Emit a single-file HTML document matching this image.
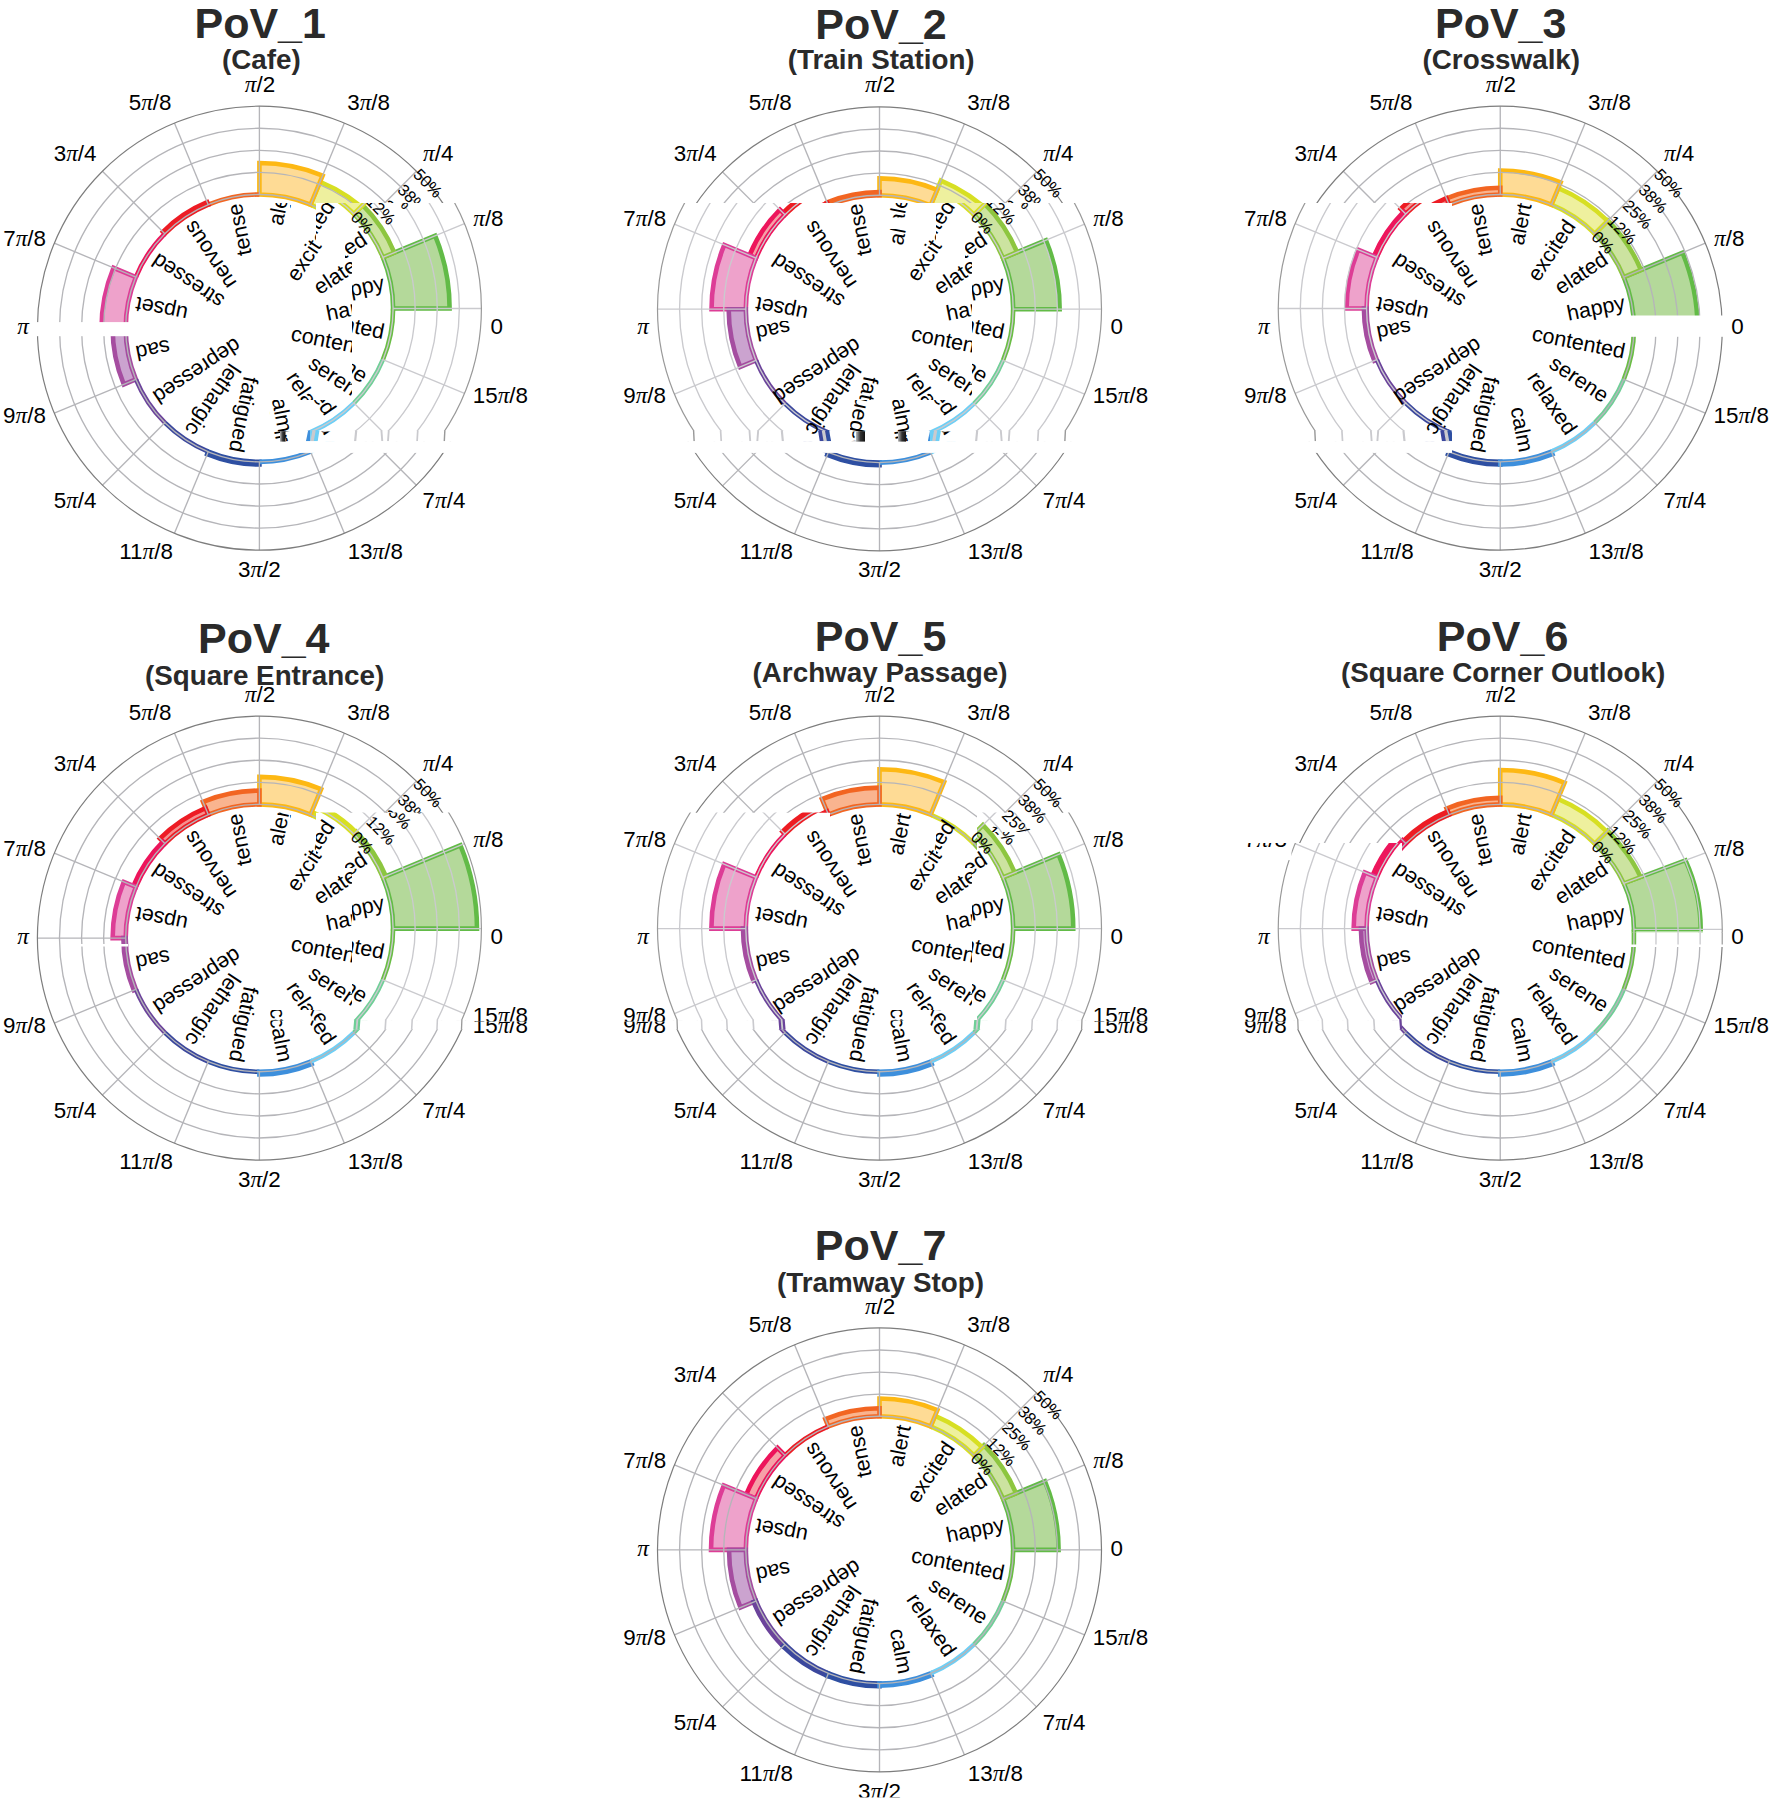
<!DOCTYPE html><html><head><meta charset="utf-8"><title>PoV polar charts</title><style>html,body{margin:0;padding:0;background:#fff}svg{display:block}text{font-family:"Liberation Sans",sans-serif;fill:#000}.ti{font-size:43px;font-weight:bold;text-anchor:middle;fill:#2a2a2a}.su{font-size:27.8px;font-weight:bold;text-anchor:middle;fill:#2a2a2a}.th{font-size:22.4px;text-anchor:middle}.pi{font-family:"Liberation Serif",serif;font-style:italic;font-size:1.04em}.wd{font-size:21.5px;text-anchor:end;dominant-baseline:central}.rt{font-size:16.5px;text-anchor:start;dominant-baseline:central}</style></head><body><svg width="1772" height="1802" viewBox="0 0 1772 1802"><rect width="1772" height="1802" fill="#fff"/><filter id="bl" x="-5%" y="-5%" width="110%" height="110%"><feGaussianBlur stdDeviation="0.55"/></filter><linearGradient id="bg" x1="0" x2="1" y1="0" y2="0"><stop offset="0" stop-color="#bbb"/><stop offset="0.5" stop-color="#333"/><stop offset="1" stop-color="#111"/></linearGradient><clipPath id="cs0_0"><polygon points="265,203 265,252 290,252 290,203"/><polygon points="316,203 316,245 345,245 345,258 352,258 352,431.4 492,431.4 492,203"/><polygon points="270,400 352,400 352,431.4 270,431.4"/></clipPath><clipPath id="sm0_0"><rect x="270" y="431" width="222" height="10.6"/></clipPath><clipPath id="cx0"><path clip-rule="evenodd" d="M0 0H1772V1802H0ZM265 203L265 252L290 252L290 203ZM316 203L316 245L345 245L345 258L352 258L352 431.4L492 431.4L492 203ZM270 400L352 400L352 431.4L270 431.4Z"/></clipPath><clipPath id="ct0_0"><polygon points="265,203 265,252 290,252 290,203"/><polygon points="316,203 316,245 345,245 345,258 352,258 352,431.4 492,431.4 492,203"/><polygon points="270,400 352,400 352,431.4 270,431.4"/></clipPath><g><path d="M393.1 328.2L449.61 328.2A190.21 190.21 0 0 0 435.13 255.41L382.92 277.04A133.7 133.7 0 0 1 393.1 328.2Z" fill="#b4d99a" stroke="#62bb46" stroke-width="4.6" stroke-linejoin="miter"/><path d="M382.92 277.04L394.34 272.3A146.06 146.06 0 0 0 362.68 224.92L353.94 233.66A133.7 133.7 0 0 1 382.92 277.04Z" fill="#cce3a0" stroke="#8dc63f" stroke-width="4.6" stroke-linejoin="miter"/><path d="M353.94 233.66L371.42 216.18A158.42 158.42 0 0 0 320.03 181.84L310.56 204.68A133.7 133.7 0 0 1 353.94 233.66Z" fill="#eef09e" stroke="#d7df23" stroke-width="4.6" stroke-linejoin="miter"/><path d="M310.56 204.68L322.59 175.64A165.13 165.13 0 0 0 259.4 163.07L259.4 194.5A133.7 133.7 0 0 1 310.56 204.68Z" fill="#fedb95" stroke="#fdb813" stroke-width="4.6" stroke-linejoin="miter"/><path d="M259.4 194.5L259.4 194.5A133.7 133.7 0 0 0 208.24 204.68L208.24 204.68A133.7 133.7 0 0 1 259.4 194.5Z" fill="#f9b48f" stroke="#f26522" stroke-width="4.6" stroke-linejoin="miter"/><path d="M208.24 204.68L207.22 202.23A136.35 136.35 0 0 0 162.99 231.79L164.86 233.66A133.7 133.7 0 0 1 208.24 204.68Z" fill="#f6908f" stroke="#ed1c24" stroke-width="4.6" stroke-linejoin="miter"/><path d="M164.86 233.66L164.86 233.66A133.7 133.7 0 0 0 135.88 277.04L135.88 277.04A133.7 133.7 0 0 1 164.86 233.66Z" fill="#f6a0a8" stroke="#ed145b" stroke-width="4.6" stroke-linejoin="miter"/><path d="M135.88 277.04L113.52 267.78A157.89 157.89 0 0 0 101.51 328.2L125.7 328.2A133.7 133.7 0 0 1 135.88 277.04Z" fill="#eea2cb" stroke="#dd3d96" stroke-width="4.6" stroke-linejoin="miter"/><path d="M125.7 328.2L112.63 328.2A146.77 146.77 0 0 0 123.8 384.37L135.88 379.36A133.7 133.7 0 0 1 125.7 328.2Z" fill="#cba3cf" stroke="#a54da0" stroke-width="4.6" stroke-linejoin="miter"/><path d="M135.88 379.36L135.88 379.36A133.7 133.7 0 0 0 164.86 422.74L164.86 422.74A133.7 133.7 0 0 1 135.88 379.36Z" fill="#b3a0cc" stroke="#6b439b" stroke-width="4.6" stroke-linejoin="miter"/><path d="M164.86 422.74L164.86 422.74A133.7 133.7 0 0 0 208.24 451.72L208.24 451.72A133.7 133.7 0 0 1 164.86 422.74Z" fill="#9da3ce" stroke="#3b479d" stroke-width="4.6" stroke-linejoin="miter"/><path d="M208.24 451.72L207.22 454.17A136.35 136.35 0 0 0 259.4 464.55L259.4 461.9A133.7 133.7 0 0 1 208.24 451.72Z" fill="#97a7d1" stroke="#2e4fa2" stroke-width="4.6" stroke-linejoin="miter"/><path d="M259.4 461.9L259.4 461.9A133.7 133.7 0 0 0 310.56 451.72L310.56 451.72A133.7 133.7 0 0 1 259.4 461.9Z" fill="#9ec7ee" stroke="#3d8fdc" stroke-width="4.6" stroke-linejoin="miter"/><path d="M310.56 451.72L310.56 451.72A133.7 133.7 0 0 0 353.94 422.74L353.94 422.74A133.7 133.7 0 0 1 310.56 451.72Z" fill="#b6e7fb" stroke="#6dcff6" stroke-width="4.6" stroke-linejoin="miter"/><path d="M353.94 422.74L353.94 422.74A133.7 133.7 0 0 0 382.92 379.36L382.92 379.36A133.7 133.7 0 0 1 353.94 422.74Z" fill="#b7e7cb" stroke="#6fcf97" stroke-width="4.6" stroke-linejoin="miter"/><path d="M382.92 379.36L382.92 379.36A133.7 133.7 0 0 0 393.1 328.2L393.1 328.2A133.7 133.7 0 0 1 382.92 379.36Z" fill="#b5de9f" stroke="#6abd45" stroke-width="4.6" stroke-linejoin="miter"/><g fill="none" stroke="#b5b5b9" stroke-width="1.35"><circle cx="259.4" cy="328.2" r="133.7"/><circle cx="259.4" cy="328.2" r="155.77"/><circle cx="259.4" cy="328.2" r="177.85"/><circle cx="259.4" cy="328.2" r="199.92"/><path d="M393.1 328.2L481.4 328.2"/><path d="M382.92 277.04L464.5 243.24"/><path d="M353.94 233.66L416.38 171.22"/><path d="M310.56 204.68L344.36 123.1"/><path d="M259.4 194.5L259.4 106.2"/><path d="M208.24 204.68L174.44 123.1"/><path d="M164.86 233.66L102.42 171.22"/><path d="M135.88 277.04L54.3 243.24"/><path d="M125.7 328.2L37.4 328.2"/><path d="M135.88 379.36L54.3 413.16"/><path d="M164.86 422.74L102.42 485.18"/><path d="M208.24 451.72L174.44 533.3"/><path d="M259.4 461.9L259.4 550.2"/><path d="M310.56 451.72L344.36 533.3"/><path d="M353.94 422.74L416.38 485.18"/><path d="M382.92 379.36L464.5 413.16"/></g><circle cx="259.4" cy="328.2" r="222" fill="none" stroke="#7d7d7d" stroke-width="1.2"/><g clip-path="url(#cs0_0)"><g fill="#fff"><polygon points="265,203 265,252 290,252 290,203"/><polygon points="316,203 316,245 345,245 345,258 352,258 352,431.4 492,431.4 492,203"/><polygon points="270,400 352,400 352,431.4 270,431.4"/></g><g transform="translate(0 -19.7)" filter="url(#bl)"><path d="M393.1 328.2L449.61 328.2A190.21 190.21 0 0 0 435.13 255.41L382.92 277.04A133.7 133.7 0 0 1 393.1 328.2Z" fill="#b4d99a" stroke="#62bb46" stroke-width="4.6" stroke-linejoin="miter"/><path d="M382.92 277.04L394.34 272.3A146.06 146.06 0 0 0 362.68 224.92L353.94 233.66A133.7 133.7 0 0 1 382.92 277.04Z" fill="#cce3a0" stroke="#8dc63f" stroke-width="4.6" stroke-linejoin="miter"/><path d="M353.94 233.66L371.42 216.18A158.42 158.42 0 0 0 320.03 181.84L310.56 204.68A133.7 133.7 0 0 1 353.94 233.66Z" fill="#eef09e" stroke="#d7df23" stroke-width="4.6" stroke-linejoin="miter"/><path d="M310.56 204.68L322.59 175.64A165.13 165.13 0 0 0 259.4 163.07L259.4 194.5A133.7 133.7 0 0 1 310.56 204.68Z" fill="#fedb95" stroke="#fdb813" stroke-width="4.6" stroke-linejoin="miter"/><path d="M259.4 194.5L259.4 194.5A133.7 133.7 0 0 0 208.24 204.68L208.24 204.68A133.7 133.7 0 0 1 259.4 194.5Z" fill="#f9b48f" stroke="#f26522" stroke-width="4.6" stroke-linejoin="miter"/><path d="M208.24 204.68L207.22 202.23A136.35 136.35 0 0 0 162.99 231.79L164.86 233.66A133.7 133.7 0 0 1 208.24 204.68Z" fill="#f6908f" stroke="#ed1c24" stroke-width="4.6" stroke-linejoin="miter"/><path d="M164.86 233.66L164.86 233.66A133.7 133.7 0 0 0 135.88 277.04L135.88 277.04A133.7 133.7 0 0 1 164.86 233.66Z" fill="#f6a0a8" stroke="#ed145b" stroke-width="4.6" stroke-linejoin="miter"/><path d="M135.88 277.04L113.52 267.78A157.89 157.89 0 0 0 101.51 328.2L125.7 328.2A133.7 133.7 0 0 1 135.88 277.04Z" fill="#eea2cb" stroke="#dd3d96" stroke-width="4.6" stroke-linejoin="miter"/><path d="M125.7 328.2L112.63 328.2A146.77 146.77 0 0 0 123.8 384.37L135.88 379.36A133.7 133.7 0 0 1 125.7 328.2Z" fill="#cba3cf" stroke="#a54da0" stroke-width="4.6" stroke-linejoin="miter"/><path d="M135.88 379.36L135.88 379.36A133.7 133.7 0 0 0 164.86 422.74L164.86 422.74A133.7 133.7 0 0 1 135.88 379.36Z" fill="#b3a0cc" stroke="#6b439b" stroke-width="4.6" stroke-linejoin="miter"/><path d="M164.86 422.74L164.86 422.74A133.7 133.7 0 0 0 208.24 451.72L208.24 451.72A133.7 133.7 0 0 1 164.86 422.74Z" fill="#9da3ce" stroke="#3b479d" stroke-width="4.6" stroke-linejoin="miter"/><path d="M208.24 451.72L207.22 454.17A136.35 136.35 0 0 0 259.4 464.55L259.4 461.9A133.7 133.7 0 0 1 208.24 451.72Z" fill="#97a7d1" stroke="#2e4fa2" stroke-width="4.6" stroke-linejoin="miter"/><path d="M259.4 461.9L259.4 461.9A133.7 133.7 0 0 0 310.56 451.72L310.56 451.72A133.7 133.7 0 0 1 259.4 461.9Z" fill="#9ec7ee" stroke="#3d8fdc" stroke-width="4.6" stroke-linejoin="miter"/><path d="M310.56 451.72L310.56 451.72A133.7 133.7 0 0 0 353.94 422.74L353.94 422.74A133.7 133.7 0 0 1 310.56 451.72Z" fill="#b6e7fb" stroke="#6dcff6" stroke-width="4.6" stroke-linejoin="miter"/><path d="M353.94 422.74L353.94 422.74A133.7 133.7 0 0 0 382.92 379.36L382.92 379.36A133.7 133.7 0 0 1 353.94 422.74Z" fill="#b7e7cb" stroke="#6fcf97" stroke-width="4.6" stroke-linejoin="miter"/><path d="M382.92 379.36L382.92 379.36A133.7 133.7 0 0 0 393.1 328.2L393.1 328.2A133.7 133.7 0 0 1 382.92 379.36Z" fill="#b5de9f" stroke="#6abd45" stroke-width="4.6" stroke-linejoin="miter"/><g fill="none" stroke="#cacace" stroke-width="1.35"><circle cx="259.4" cy="328.2" r="133.7"/><circle cx="259.4" cy="328.2" r="155.77"/><circle cx="259.4" cy="328.2" r="177.85"/><circle cx="259.4" cy="328.2" r="199.92"/><path d="M393.1 328.2L481.4 328.2"/><path d="M382.92 277.04L464.5 243.24"/><path d="M353.94 233.66L416.38 171.22"/><path d="M310.56 204.68L344.36 123.1"/><path d="M259.4 194.5L259.4 106.2"/><path d="M208.24 204.68L174.44 123.1"/><path d="M164.86 233.66L102.42 171.22"/><path d="M135.88 277.04L54.3 243.24"/><path d="M125.7 328.2L37.4 328.2"/><path d="M135.88 379.36L54.3 413.16"/><path d="M164.86 422.74L102.42 485.18"/><path d="M208.24 451.72L174.44 533.3"/><path d="M259.4 461.9L259.4 550.2"/><path d="M310.56 451.72L344.36 533.3"/><path d="M353.94 422.74L416.38 485.18"/><path d="M382.92 379.36L464.5 413.16"/></g><circle cx="259.4" cy="328.2" r="222" fill="none" stroke="#999" stroke-width="1.2"/></g></g><g clip-path="url(#sm0_0)"><rect x="270" y="431" width="222" height="10.6" fill="#fff"/><g transform="translate(0 431.4) scale(1 12.75) translate(0 -430.6)"><g transform="translate(0 -19.7)"><path d="M393.1 328.2L449.61 328.2A190.21 190.21 0 0 0 435.13 255.41L382.92 277.04A133.7 133.7 0 0 1 393.1 328.2Z" fill="#b4d99a" stroke="#62bb46" stroke-width="4.6" stroke-linejoin="miter"/><path d="M382.92 277.04L394.34 272.3A146.06 146.06 0 0 0 362.68 224.92L353.94 233.66A133.7 133.7 0 0 1 382.92 277.04Z" fill="#cce3a0" stroke="#8dc63f" stroke-width="4.6" stroke-linejoin="miter"/><path d="M353.94 233.66L371.42 216.18A158.42 158.42 0 0 0 320.03 181.84L310.56 204.68A133.7 133.7 0 0 1 353.94 233.66Z" fill="#eef09e" stroke="#d7df23" stroke-width="4.6" stroke-linejoin="miter"/><path d="M310.56 204.68L322.59 175.64A165.13 165.13 0 0 0 259.4 163.07L259.4 194.5A133.7 133.7 0 0 1 310.56 204.68Z" fill="#fedb95" stroke="#fdb813" stroke-width="4.6" stroke-linejoin="miter"/><path d="M259.4 194.5L259.4 194.5A133.7 133.7 0 0 0 208.24 204.68L208.24 204.68A133.7 133.7 0 0 1 259.4 194.5Z" fill="#f9b48f" stroke="#f26522" stroke-width="4.6" stroke-linejoin="miter"/><path d="M208.24 204.68L207.22 202.23A136.35 136.35 0 0 0 162.99 231.79L164.86 233.66A133.7 133.7 0 0 1 208.24 204.68Z" fill="#f6908f" stroke="#ed1c24" stroke-width="4.6" stroke-linejoin="miter"/><path d="M164.86 233.66L164.86 233.66A133.7 133.7 0 0 0 135.88 277.04L135.88 277.04A133.7 133.7 0 0 1 164.86 233.66Z" fill="#f6a0a8" stroke="#ed145b" stroke-width="4.6" stroke-linejoin="miter"/><path d="M135.88 277.04L113.52 267.78A157.89 157.89 0 0 0 101.51 328.2L125.7 328.2A133.7 133.7 0 0 1 135.88 277.04Z" fill="#eea2cb" stroke="#dd3d96" stroke-width="4.6" stroke-linejoin="miter"/><path d="M125.7 328.2L112.63 328.2A146.77 146.77 0 0 0 123.8 384.37L135.88 379.36A133.7 133.7 0 0 1 125.7 328.2Z" fill="#cba3cf" stroke="#a54da0" stroke-width="4.6" stroke-linejoin="miter"/><path d="M135.88 379.36L135.88 379.36A133.7 133.7 0 0 0 164.86 422.74L164.86 422.74A133.7 133.7 0 0 1 135.88 379.36Z" fill="#b3a0cc" stroke="#6b439b" stroke-width="4.6" stroke-linejoin="miter"/><path d="M164.86 422.74L164.86 422.74A133.7 133.7 0 0 0 208.24 451.72L208.24 451.72A133.7 133.7 0 0 1 164.86 422.74Z" fill="#9da3ce" stroke="#3b479d" stroke-width="4.6" stroke-linejoin="miter"/><path d="M208.24 451.72L207.22 454.17A136.35 136.35 0 0 0 259.4 464.55L259.4 461.9A133.7 133.7 0 0 1 208.24 451.72Z" fill="#97a7d1" stroke="#2e4fa2" stroke-width="4.6" stroke-linejoin="miter"/><path d="M259.4 461.9L259.4 461.9A133.7 133.7 0 0 0 310.56 451.72L310.56 451.72A133.7 133.7 0 0 1 259.4 461.9Z" fill="#9ec7ee" stroke="#3d8fdc" stroke-width="4.6" stroke-linejoin="miter"/><path d="M310.56 451.72L310.56 451.72A133.7 133.7 0 0 0 353.94 422.74L353.94 422.74A133.7 133.7 0 0 1 310.56 451.72Z" fill="#b6e7fb" stroke="#6dcff6" stroke-width="4.6" stroke-linejoin="miter"/><path d="M353.94 422.74L353.94 422.74A133.7 133.7 0 0 0 382.92 379.36L382.92 379.36A133.7 133.7 0 0 1 353.94 422.74Z" fill="#b7e7cb" stroke="#6fcf97" stroke-width="4.6" stroke-linejoin="miter"/><path d="M382.92 379.36L382.92 379.36A133.7 133.7 0 0 0 393.1 328.2L393.1 328.2A133.7 133.7 0 0 1 382.92 379.36Z" fill="#b5de9f" stroke="#6abd45" stroke-width="4.6" stroke-linejoin="miter"/><g fill="none" stroke="#cacace" stroke-width="1.35"><circle cx="259.4" cy="328.2" r="133.7"/><circle cx="259.4" cy="328.2" r="155.77"/><circle cx="259.4" cy="328.2" r="177.85"/><circle cx="259.4" cy="328.2" r="199.92"/><path d="M393.1 328.2L481.4 328.2"/><path d="M382.92 277.04L464.5 243.24"/><path d="M353.94 233.66L416.38 171.22"/><path d="M310.56 204.68L344.36 123.1"/><path d="M259.4 194.5L259.4 106.2"/><path d="M208.24 204.68L174.44 123.1"/><path d="M164.86 233.66L102.42 171.22"/><path d="M135.88 277.04L54.3 243.24"/><path d="M125.7 328.2L37.4 328.2"/><path d="M135.88 379.36L54.3 413.16"/><path d="M164.86 422.74L102.42 485.18"/><path d="M208.24 451.72L174.44 533.3"/><path d="M259.4 461.9L259.4 550.2"/><path d="M310.56 451.72L344.36 533.3"/><path d="M353.94 422.74L416.38 485.18"/><path d="M382.92 379.36L464.5 413.16"/></g><circle cx="259.4" cy="328.2" r="222" fill="none" stroke="#999" stroke-width="1.2"/></g></g></g><g clip-path="url(#cx0)"><text class="wd" transform="translate(259.9 327.8) rotate(-11.25)" x="126.5" y="-0.7">happy</text><text class="wd" transform="translate(259.9 327.8) rotate(-33.75)" x="126.5" y="-0.7">elated</text><text class="wd" transform="translate(259.9 327.8) rotate(-56.25)" x="126.5" y="-0.7">excited</text><text class="wd" transform="translate(259.9 327.8) rotate(-78.75)" x="126.5" y="-0.7">alert</text><text class="wd" transform="translate(259.9 327.8) rotate(-101.25)" x="126.5" y="-0.7">tense</text><text class="wd" transform="translate(259.9 327.8) rotate(-123.75)" x="126.5" y="-0.7">nervous</text><text class="wd" transform="translate(259.9 327.8) rotate(-146.25)" x="126.5" y="-0.7">stressed</text><text class="wd" transform="translate(259.9 327.8) rotate(-168.75)" x="126.5" y="-0.7">upset</text><text class="wd" transform="translate(259.9 327.8) rotate(-191.25)" x="126.5" y="-0.7">sad</text><text class="wd" transform="translate(259.9 327.8) rotate(-213.75)" x="126.5" y="-0.7">depressed</text><text class="wd" transform="translate(259.9 327.8) rotate(-236.25)" x="126.5" y="-0.7">lethargic</text><text class="wd" transform="translate(259.9 327.8) rotate(-258.75)" x="126.5" y="-0.7">fatigued</text><text class="wd" transform="translate(259.9 327.8) rotate(-281.25)" x="126.5" y="-0.7">calm</text><text class="wd" transform="translate(259.9 327.8) rotate(-303.75)" x="126.5" y="-0.7">relaxed</text><text class="wd" transform="translate(259.9 327.8) rotate(-326.25)" x="126.5" y="-0.7">serene</text><text class="wd" transform="translate(259.9 327.8) rotate(-348.75)" x="126.5" y="-0.7">contented</text><text class="rt" transform="translate(353.94 233.66) rotate(45)" x="0" y="0">0%</text><text class="rt" transform="translate(369.55 218.05) rotate(45)" x="0" y="0">12%</text><text class="rt" transform="translate(385.16 202.44) rotate(45)" x="0" y="0">25%</text><text class="rt" transform="translate(400.77 186.83) rotate(45)" x="0" y="0">38%</text><text class="rt" transform="translate(416.38 171.22) rotate(45)" x="0" y="0">50%</text></g><g clip-path="url(#ct0_0)"><g transform="translate(0 -19.7)"><text class="wd" transform="translate(259.9 327.8) rotate(-11.25)" x="126.5" y="-0.7">happy</text><text class="wd" transform="translate(259.9 327.8) rotate(-33.75)" x="126.5" y="-0.7">elated</text><text class="wd" transform="translate(259.9 327.8) rotate(-56.25)" x="126.5" y="-0.7">excited</text><text class="wd" transform="translate(259.9 327.8) rotate(-78.75)" x="126.5" y="-0.7">alert</text><text class="wd" transform="translate(259.9 327.8) rotate(-281.25)" x="126.5" y="-0.7">calm</text><text class="wd" transform="translate(259.9 327.8) rotate(-303.75)" x="126.5" y="-0.7">relaxed</text><text class="wd" transform="translate(259.9 327.8) rotate(-326.25)" x="126.5" y="-0.7">serene</text><text class="wd" transform="translate(259.9 327.8) rotate(-348.75)" x="126.5" y="-0.7">contented</text><text class="rt" transform="translate(353.94 233.66) rotate(45)" x="0" y="0">0%</text><text class="rt" transform="translate(369.55 218.05) rotate(45)" x="0" y="0">12%</text><text class="rt" transform="translate(385.16 202.44) rotate(45)" x="0" y="0">25%</text><text class="rt" transform="translate(400.77 186.83) rotate(45)" x="0" y="0">38%</text><text class="rt" transform="translate(416.38 171.22) rotate(45)" x="0" y="0">50%</text></g></g><rect x="270" y="441.1" width="222" height="11.8" fill="#fff"/><rect x="35" y="322.1" width="95" height="14.1" fill="#fff"/><rect x="280" y="431.4" width="5.5" height="10.2" fill="url(#bg)"/><text class="ti" x="260.2" y="38.4">PoV_1</text><text class="su" x="261.3" y="68.5">(Cafe)</text><text class="th" x="496.7" y="334.2">0</text><text class="th" x="488.4" y="226.2"><tspan class="pi">π</tspan>/8</text><text class="th" x="438.3" y="160.7"><tspan class="pi">π</tspan>/4</text><text class="th" x="368.6" y="109.9">3<tspan class="pi">π</tspan>/8</text><text class="th" x="260" y="92.4"><tspan class="pi">π</tspan>/2</text><text class="th" x="150.1" y="110">5<tspan class="pi">π</tspan>/8</text><text class="th" x="75.1" y="160.7">3<tspan class="pi">π</tspan>/4</text><text class="th" x="24.6" y="246.2">7<tspan class="pi">π</tspan>/8</text><text class="th" x="23.1" y="334.2"><tspan class="pi">π</tspan></text><text class="th" x="24.5" y="422.8">9<tspan class="pi">π</tspan>/8</text><text class="th" x="75.1" y="508.4">5<tspan class="pi">π</tspan>/4</text><text class="th" x="146.1" y="559">11<tspan class="pi">π</tspan>/8</text><text class="th" x="259.4" y="576.8">3<tspan class="pi">π</tspan>/2</text><text class="th" x="375.3" y="559">13<tspan class="pi">π</tspan>/8</text><text class="th" x="444" y="508.4">7<tspan class="pi">π</tspan>/4</text><text class="th" x="500.4" y="403">15<tspan class="pi">π</tspan>/8</text></g>
<clipPath id="cs1_0"><polygon points="650,203 650,431.4 1112,431.4 1112,203"/></clipPath><clipPath id="sm1_0"><rect x="650" y="431" width="462" height="10.6"/></clipPath><clipPath id="cx1"><path clip-rule="evenodd" d="M0 0H1772V1802H0ZM885 203L885 217.5L912 217.5L912 203ZM936 203L936 245L965 245L965 258L972 258L972 431.4L1112 431.4L1112 203ZM850 400L972 400L972 431.4L850 431.4ZM745 321L800 321L800 362L745 362ZM885 217.5L885 229L912 229L912 217.5Z"/></clipPath><clipPath id="ct1_0"><polygon points="885,203 885,217.5 912,217.5 912,203"/><polygon points="936,203 936,245 965,245 965,258 972,258 972,431.4 1112,431.4 1112,203"/><polygon points="850,400 972,400 972,431.4 850,431.4"/><polygon points="745,321 800,321 800,362 745,362"/></clipPath><g><path d="M1013.2 328.9L1059.65 328.9A180.15 180.15 0 0 0 1045.93 259.96L1003.02 277.74A133.7 133.7 0 0 1 1013.2 328.9Z" fill="#b4d99a" stroke="#62bb46" stroke-width="4.6" stroke-linejoin="miter"/><path d="M1003.02 277.74L1017.05 271.92A148.89 148.89 0 0 0 984.78 223.62L974.04 234.36A133.7 133.7 0 0 1 1003.02 277.74Z" fill="#cce3a0" stroke="#8dc63f" stroke-width="4.6" stroke-linejoin="miter"/><path d="M974.04 234.36L993.02 215.38A160.54 160.54 0 0 0 940.94 180.58L930.66 205.38A133.7 133.7 0 0 1 974.04 234.36Z" fill="#eef09e" stroke="#d7df23" stroke-width="4.6" stroke-linejoin="miter"/><path d="M930.66 205.38L937.09 189.88A150.48 150.48 0 0 0 879.5 178.42L879.5 195.2A133.7 133.7 0 0 1 930.66 205.38Z" fill="#fedb95" stroke="#fdb813" stroke-width="4.6" stroke-linejoin="miter"/><path d="M879.5 195.2L879.5 192.02A136.88 136.88 0 0 0 827.12 202.44L828.34 205.38A133.7 133.7 0 0 1 879.5 195.2Z" fill="#f9b48f" stroke="#f26522" stroke-width="4.6" stroke-linejoin="miter"/><path d="M828.34 205.38L827.32 202.93A136.35 136.35 0 0 0 783.09 232.49L784.96 234.36A133.7 133.7 0 0 1 828.34 205.38Z" fill="#f6908f" stroke="#ed1c24" stroke-width="4.6" stroke-linejoin="miter"/><path d="M784.96 234.36L779.96 229.36A140.76 140.76 0 0 0 749.45 275.03L755.98 277.74A133.7 133.7 0 0 1 784.96 234.36Z" fill="#f6a0a8" stroke="#ed145b" stroke-width="4.6" stroke-linejoin="miter"/><path d="M755.98 277.74L724.32 264.62A167.96 167.96 0 0 0 711.54 328.9L745.8 328.9A133.7 133.7 0 0 1 755.98 277.74Z" fill="#eea2cb" stroke="#dd3d96" stroke-width="4.6" stroke-linejoin="miter"/><path d="M745.8 328.9L728.67 328.9A150.83 150.83 0 0 0 740.15 386.62L755.98 380.06A133.7 133.7 0 0 1 745.8 328.9Z" fill="#cba3cf" stroke="#a54da0" stroke-width="4.6" stroke-linejoin="miter"/><path d="M755.98 380.06L755.98 380.06A133.7 133.7 0 0 0 784.96 423.44L784.96 423.44A133.7 133.7 0 0 1 755.98 380.06Z" fill="#b3a0cc" stroke="#6b439b" stroke-width="4.6" stroke-linejoin="miter"/><path d="M784.96 423.44L784.96 423.44A133.7 133.7 0 0 0 828.34 452.42L828.34 452.42A133.7 133.7 0 0 1 784.96 423.44Z" fill="#9da3ce" stroke="#3b479d" stroke-width="4.6" stroke-linejoin="miter"/><path d="M828.34 452.42L827.32 454.87A136.35 136.35 0 0 0 879.5 465.25L879.5 462.6A133.7 133.7 0 0 1 828.34 452.42Z" fill="#97a7d1" stroke="#2e4fa2" stroke-width="4.6" stroke-linejoin="miter"/><path d="M879.5 462.6L879.5 462.6A133.7 133.7 0 0 0 930.66 452.42L930.66 452.42A133.7 133.7 0 0 1 879.5 462.6Z" fill="#9ec7ee" stroke="#3d8fdc" stroke-width="4.6" stroke-linejoin="miter"/><path d="M930.66 452.42L930.66 452.42A133.7 133.7 0 0 0 974.04 423.44L974.04 423.44A133.7 133.7 0 0 1 930.66 452.42Z" fill="#b6e7fb" stroke="#6dcff6" stroke-width="4.6" stroke-linejoin="miter"/><path d="M974.04 423.44L974.04 423.44A133.7 133.7 0 0 0 1003.02 380.06L1003.02 380.06A133.7 133.7 0 0 1 974.04 423.44Z" fill="#b7e7cb" stroke="#6fcf97" stroke-width="4.6" stroke-linejoin="miter"/><path d="M1003.02 380.06L1003.02 380.06A133.7 133.7 0 0 0 1013.2 328.9L1013.2 328.9A133.7 133.7 0 0 1 1003.02 380.06Z" fill="#b5de9f" stroke="#6abd45" stroke-width="4.6" stroke-linejoin="miter"/><g fill="none" stroke="#b5b5b9" stroke-width="1.35"><circle cx="879.5" cy="328.9" r="133.7"/><circle cx="879.5" cy="328.9" r="155.77"/><circle cx="879.5" cy="328.9" r="177.85"/><circle cx="879.5" cy="328.9" r="199.92"/><path d="M1013.2 328.9L1101.5 328.9"/><path d="M1003.02 277.74L1084.6 243.94"/><path d="M974.04 234.36L1036.48 171.92"/><path d="M930.66 205.38L964.46 123.8"/><path d="M879.5 195.2L879.5 106.9"/><path d="M828.34 205.38L794.54 123.8"/><path d="M784.96 234.36L722.52 171.92"/><path d="M755.98 277.74L674.4 243.94"/><path d="M745.8 328.9L657.5 328.9"/><path d="M755.98 380.06L674.4 413.86"/><path d="M784.96 423.44L722.52 485.88"/><path d="M828.34 452.42L794.54 534"/><path d="M879.5 462.6L879.5 550.9"/><path d="M930.66 452.42L964.46 534"/><path d="M974.04 423.44L1036.48 485.88"/><path d="M1003.02 380.06L1084.6 413.86"/></g><circle cx="879.5" cy="328.9" r="222" fill="none" stroke="#7d7d7d" stroke-width="1.2"/><g clip-path="url(#cs1_0)"><g fill="#fff"><polygon points="650,203 650,431.4 1112,431.4 1112,203"/></g><g transform="translate(0 -19.7)" filter="url(#bl)"><path d="M1013.2 328.9L1059.65 328.9A180.15 180.15 0 0 0 1045.93 259.96L1003.02 277.74A133.7 133.7 0 0 1 1013.2 328.9Z" fill="#b4d99a" stroke="#62bb46" stroke-width="4.6" stroke-linejoin="miter"/><path d="M1003.02 277.74L1017.05 271.92A148.89 148.89 0 0 0 984.78 223.62L974.04 234.36A133.7 133.7 0 0 1 1003.02 277.74Z" fill="#cce3a0" stroke="#8dc63f" stroke-width="4.6" stroke-linejoin="miter"/><path d="M974.04 234.36L993.02 215.38A160.54 160.54 0 0 0 940.94 180.58L930.66 205.38A133.7 133.7 0 0 1 974.04 234.36Z" fill="#eef09e" stroke="#d7df23" stroke-width="4.6" stroke-linejoin="miter"/><path d="M930.66 205.38L937.09 189.88A150.48 150.48 0 0 0 879.5 178.42L879.5 195.2A133.7 133.7 0 0 1 930.66 205.38Z" fill="#fedb95" stroke="#fdb813" stroke-width="4.6" stroke-linejoin="miter"/><path d="M879.5 195.2L879.5 192.02A136.88 136.88 0 0 0 827.12 202.44L828.34 205.38A133.7 133.7 0 0 1 879.5 195.2Z" fill="#f9b48f" stroke="#f26522" stroke-width="4.6" stroke-linejoin="miter"/><path d="M828.34 205.38L827.32 202.93A136.35 136.35 0 0 0 783.09 232.49L784.96 234.36A133.7 133.7 0 0 1 828.34 205.38Z" fill="#f6908f" stroke="#ed1c24" stroke-width="4.6" stroke-linejoin="miter"/><path d="M784.96 234.36L779.96 229.36A140.76 140.76 0 0 0 749.45 275.03L755.98 277.74A133.7 133.7 0 0 1 784.96 234.36Z" fill="#f6a0a8" stroke="#ed145b" stroke-width="4.6" stroke-linejoin="miter"/><path d="M755.98 277.74L724.32 264.62A167.96 167.96 0 0 0 711.54 328.9L745.8 328.9A133.7 133.7 0 0 1 755.98 277.74Z" fill="#eea2cb" stroke="#dd3d96" stroke-width="4.6" stroke-linejoin="miter"/><path d="M745.8 328.9L728.67 328.9A150.83 150.83 0 0 0 740.15 386.62L755.98 380.06A133.7 133.7 0 0 1 745.8 328.9Z" fill="#cba3cf" stroke="#a54da0" stroke-width="4.6" stroke-linejoin="miter"/><path d="M755.98 380.06L755.98 380.06A133.7 133.7 0 0 0 784.96 423.44L784.96 423.44A133.7 133.7 0 0 1 755.98 380.06Z" fill="#b3a0cc" stroke="#6b439b" stroke-width="4.6" stroke-linejoin="miter"/><path d="M784.96 423.44L784.96 423.44A133.7 133.7 0 0 0 828.34 452.42L828.34 452.42A133.7 133.7 0 0 1 784.96 423.44Z" fill="#9da3ce" stroke="#3b479d" stroke-width="4.6" stroke-linejoin="miter"/><path d="M828.34 452.42L827.32 454.87A136.35 136.35 0 0 0 879.5 465.25L879.5 462.6A133.7 133.7 0 0 1 828.34 452.42Z" fill="#97a7d1" stroke="#2e4fa2" stroke-width="4.6" stroke-linejoin="miter"/><path d="M879.5 462.6L879.5 462.6A133.7 133.7 0 0 0 930.66 452.42L930.66 452.42A133.7 133.7 0 0 1 879.5 462.6Z" fill="#9ec7ee" stroke="#3d8fdc" stroke-width="4.6" stroke-linejoin="miter"/><path d="M930.66 452.42L930.66 452.42A133.7 133.7 0 0 0 974.04 423.44L974.04 423.44A133.7 133.7 0 0 1 930.66 452.42Z" fill="#b6e7fb" stroke="#6dcff6" stroke-width="4.6" stroke-linejoin="miter"/><path d="M974.04 423.44L974.04 423.44A133.7 133.7 0 0 0 1003.02 380.06L1003.02 380.06A133.7 133.7 0 0 1 974.04 423.44Z" fill="#b7e7cb" stroke="#6fcf97" stroke-width="4.6" stroke-linejoin="miter"/><path d="M1003.02 380.06L1003.02 380.06A133.7 133.7 0 0 0 1013.2 328.9L1013.2 328.9A133.7 133.7 0 0 1 1003.02 380.06Z" fill="#b5de9f" stroke="#6abd45" stroke-width="4.6" stroke-linejoin="miter"/><g fill="none" stroke="#cacace" stroke-width="1.35"><circle cx="879.5" cy="328.9" r="133.7"/><circle cx="879.5" cy="328.9" r="155.77"/><circle cx="879.5" cy="328.9" r="177.85"/><circle cx="879.5" cy="328.9" r="199.92"/><path d="M1013.2 328.9L1101.5 328.9"/><path d="M1003.02 277.74L1084.6 243.94"/><path d="M974.04 234.36L1036.48 171.92"/><path d="M930.66 205.38L964.46 123.8"/><path d="M879.5 195.2L879.5 106.9"/><path d="M828.34 205.38L794.54 123.8"/><path d="M784.96 234.36L722.52 171.92"/><path d="M755.98 277.74L674.4 243.94"/><path d="M745.8 328.9L657.5 328.9"/><path d="M755.98 380.06L674.4 413.86"/><path d="M784.96 423.44L722.52 485.88"/><path d="M828.34 452.42L794.54 534"/><path d="M879.5 462.6L879.5 550.9"/><path d="M930.66 452.42L964.46 534"/><path d="M974.04 423.44L1036.48 485.88"/><path d="M1003.02 380.06L1084.6 413.86"/></g><circle cx="879.5" cy="328.9" r="222" fill="none" stroke="#999" stroke-width="1.2"/></g></g><g clip-path="url(#sm1_0)"><rect x="650" y="431" width="462" height="10.6" fill="#fff"/><g transform="translate(0 431.4) scale(1 12.75) translate(0 -430.6)"><g transform="translate(0 -19.7)"><path d="M1013.2 328.9L1059.65 328.9A180.15 180.15 0 0 0 1045.93 259.96L1003.02 277.74A133.7 133.7 0 0 1 1013.2 328.9Z" fill="#b4d99a" stroke="#62bb46" stroke-width="4.6" stroke-linejoin="miter"/><path d="M1003.02 277.74L1017.05 271.92A148.89 148.89 0 0 0 984.78 223.62L974.04 234.36A133.7 133.7 0 0 1 1003.02 277.74Z" fill="#cce3a0" stroke="#8dc63f" stroke-width="4.6" stroke-linejoin="miter"/><path d="M974.04 234.36L993.02 215.38A160.54 160.54 0 0 0 940.94 180.58L930.66 205.38A133.7 133.7 0 0 1 974.04 234.36Z" fill="#eef09e" stroke="#d7df23" stroke-width="4.6" stroke-linejoin="miter"/><path d="M930.66 205.38L937.09 189.88A150.48 150.48 0 0 0 879.5 178.42L879.5 195.2A133.7 133.7 0 0 1 930.66 205.38Z" fill="#fedb95" stroke="#fdb813" stroke-width="4.6" stroke-linejoin="miter"/><path d="M879.5 195.2L879.5 192.02A136.88 136.88 0 0 0 827.12 202.44L828.34 205.38A133.7 133.7 0 0 1 879.5 195.2Z" fill="#f9b48f" stroke="#f26522" stroke-width="4.6" stroke-linejoin="miter"/><path d="M828.34 205.38L827.32 202.93A136.35 136.35 0 0 0 783.09 232.49L784.96 234.36A133.7 133.7 0 0 1 828.34 205.38Z" fill="#f6908f" stroke="#ed1c24" stroke-width="4.6" stroke-linejoin="miter"/><path d="M784.96 234.36L779.96 229.36A140.76 140.76 0 0 0 749.45 275.03L755.98 277.74A133.7 133.7 0 0 1 784.96 234.36Z" fill="#f6a0a8" stroke="#ed145b" stroke-width="4.6" stroke-linejoin="miter"/><path d="M755.98 277.74L724.32 264.62A167.96 167.96 0 0 0 711.54 328.9L745.8 328.9A133.7 133.7 0 0 1 755.98 277.74Z" fill="#eea2cb" stroke="#dd3d96" stroke-width="4.6" stroke-linejoin="miter"/><path d="M745.8 328.9L728.67 328.9A150.83 150.83 0 0 0 740.15 386.62L755.98 380.06A133.7 133.7 0 0 1 745.8 328.9Z" fill="#cba3cf" stroke="#a54da0" stroke-width="4.6" stroke-linejoin="miter"/><path d="M755.98 380.06L755.98 380.06A133.7 133.7 0 0 0 784.96 423.44L784.96 423.44A133.7 133.7 0 0 1 755.98 380.06Z" fill="#b3a0cc" stroke="#6b439b" stroke-width="4.6" stroke-linejoin="miter"/><path d="M784.96 423.44L784.96 423.44A133.7 133.7 0 0 0 828.34 452.42L828.34 452.42A133.7 133.7 0 0 1 784.96 423.44Z" fill="#9da3ce" stroke="#3b479d" stroke-width="4.6" stroke-linejoin="miter"/><path d="M828.34 452.42L827.32 454.87A136.35 136.35 0 0 0 879.5 465.25L879.5 462.6A133.7 133.7 0 0 1 828.34 452.42Z" fill="#97a7d1" stroke="#2e4fa2" stroke-width="4.6" stroke-linejoin="miter"/><path d="M879.5 462.6L879.5 462.6A133.7 133.7 0 0 0 930.66 452.42L930.66 452.42A133.7 133.7 0 0 1 879.5 462.6Z" fill="#9ec7ee" stroke="#3d8fdc" stroke-width="4.6" stroke-linejoin="miter"/><path d="M930.66 452.42L930.66 452.42A133.7 133.7 0 0 0 974.04 423.44L974.04 423.44A133.7 133.7 0 0 1 930.66 452.42Z" fill="#b6e7fb" stroke="#6dcff6" stroke-width="4.6" stroke-linejoin="miter"/><path d="M974.04 423.44L974.04 423.44A133.7 133.7 0 0 0 1003.02 380.06L1003.02 380.06A133.7 133.7 0 0 1 974.04 423.44Z" fill="#b7e7cb" stroke="#6fcf97" stroke-width="4.6" stroke-linejoin="miter"/><path d="M1003.02 380.06L1003.02 380.06A133.7 133.7 0 0 0 1013.2 328.9L1013.2 328.9A133.7 133.7 0 0 1 1003.02 380.06Z" fill="#b5de9f" stroke="#6abd45" stroke-width="4.6" stroke-linejoin="miter"/><g fill="none" stroke="#cacace" stroke-width="1.35"><circle cx="879.5" cy="328.9" r="133.7"/><circle cx="879.5" cy="328.9" r="155.77"/><circle cx="879.5" cy="328.9" r="177.85"/><circle cx="879.5" cy="328.9" r="199.92"/><path d="M1013.2 328.9L1101.5 328.9"/><path d="M1003.02 277.74L1084.6 243.94"/><path d="M974.04 234.36L1036.48 171.92"/><path d="M930.66 205.38L964.46 123.8"/><path d="M879.5 195.2L879.5 106.9"/><path d="M828.34 205.38L794.54 123.8"/><path d="M784.96 234.36L722.52 171.92"/><path d="M755.98 277.74L674.4 243.94"/><path d="M745.8 328.9L657.5 328.9"/><path d="M755.98 380.06L674.4 413.86"/><path d="M784.96 423.44L722.52 485.88"/><path d="M828.34 452.42L794.54 534"/><path d="M879.5 462.6L879.5 550.9"/><path d="M930.66 452.42L964.46 534"/><path d="M974.04 423.44L1036.48 485.88"/><path d="M1003.02 380.06L1084.6 413.86"/></g><circle cx="879.5" cy="328.9" r="222" fill="none" stroke="#999" stroke-width="1.2"/></g></g></g><g clip-path="url(#cx1)"><text class="wd" transform="translate(880 327.8) rotate(-11.25)" x="126.5" y="-0.7">happy</text><text class="wd" transform="translate(880 327.8) rotate(-33.75)" x="126.5" y="-0.7">elated</text><text class="wd" transform="translate(880 327.8) rotate(-56.25)" x="126.5" y="-0.7">excited</text><text class="wd" transform="translate(880 327.8) rotate(-78.75)" x="126.5" y="-0.7">alert</text><text class="wd" transform="translate(880 327.8) rotate(-101.25)" x="126.5" y="-0.7">tense</text><text class="wd" transform="translate(880 327.8) rotate(-123.75)" x="126.5" y="-0.7">nervous</text><text class="wd" transform="translate(880 327.8) rotate(-146.25)" x="126.5" y="-0.7">stressed</text><text class="wd" transform="translate(880 327.8) rotate(-168.75)" x="126.5" y="-0.7">upset</text><text class="wd" transform="translate(880 327.8) rotate(-191.25)" x="126.5" y="-0.7">sad</text><text class="wd" transform="translate(880 327.8) rotate(-213.75)" x="126.5" y="-0.7">depressed</text><text class="wd" transform="translate(880 327.8) rotate(-236.25)" x="126.5" y="-0.7">lethargic</text><text class="wd" transform="translate(880 327.8) rotate(-258.75)" x="126.5" y="-0.7">fatigued</text><text class="wd" transform="translate(880 327.8) rotate(-281.25)" x="126.5" y="-0.7">calm</text><text class="wd" transform="translate(880 327.8) rotate(-303.75)" x="126.5" y="-0.7">relaxed</text><text class="wd" transform="translate(880 327.8) rotate(-326.25)" x="126.5" y="-0.7">serene</text><text class="wd" transform="translate(880 327.8) rotate(-348.75)" x="126.5" y="-0.7">contented</text><text class="rt" transform="translate(974.04 233.66) rotate(45)" x="0" y="0">0%</text><text class="rt" transform="translate(989.65 218.05) rotate(45)" x="0" y="0">12%</text><text class="rt" transform="translate(1005.26 202.44) rotate(45)" x="0" y="0">25%</text><text class="rt" transform="translate(1020.87 186.83) rotate(45)" x="0" y="0">38%</text><text class="rt" transform="translate(1036.48 171.22) rotate(45)" x="0" y="0">50%</text></g><g clip-path="url(#ct1_0)"><g transform="translate(0 -19.7)"><text class="wd" transform="translate(880 327.8) rotate(-11.25)" x="126.5" y="-0.7">happy</text><text class="wd" transform="translate(880 327.8) rotate(-33.75)" x="126.5" y="-0.7">elated</text><text class="wd" transform="translate(880 327.8) rotate(-56.25)" x="126.5" y="-0.7">excited</text><text class="wd" transform="translate(880 327.8) rotate(-78.75)" x="126.5" y="-0.7">alert</text><text class="wd" transform="translate(880 327.8) rotate(-191.25)" x="126.5" y="-0.7">sad</text><text class="wd" transform="translate(880 327.8) rotate(-258.75)" x="126.5" y="-0.7">fatigued</text><text class="wd" transform="translate(880 327.8) rotate(-281.25)" x="126.5" y="-0.7">calm</text><text class="wd" transform="translate(880 327.8) rotate(-303.75)" x="126.5" y="-0.7">relaxed</text><text class="wd" transform="translate(880 327.8) rotate(-326.25)" x="126.5" y="-0.7">serene</text><text class="wd" transform="translate(880 327.8) rotate(-348.75)" x="126.5" y="-0.7">contented</text><text class="rt" transform="translate(974.04 233.66) rotate(45)" x="0" y="0">0%</text><text class="rt" transform="translate(989.65 218.05) rotate(45)" x="0" y="0">12%</text><text class="rt" transform="translate(1005.26 202.44) rotate(45)" x="0" y="0">25%</text><text class="rt" transform="translate(1020.87 186.83) rotate(45)" x="0" y="0">38%</text><text class="rt" transform="translate(1036.48 171.22) rotate(45)" x="0" y="0">50%</text></g></g><rect x="650" y="441.1" width="462" height="11.8" fill="#fff"/><rect x="856" y="431.4" width="9" height="10.2" fill="url(#bg)"/><rect x="898" y="431.4" width="8" height="10.2" fill="url(#bg)"/><text class="ti" x="881" y="38.6">PoV_2</text><text class="su" x="881.2" y="69.2">(Train Station)</text><text class="th" x="1116.8" y="334.2">0</text><text class="th" x="1108.5" y="226.2"><tspan class="pi">π</tspan>/8</text><text class="th" x="1058.4" y="160.7"><tspan class="pi">π</tspan>/4</text><text class="th" x="988.7" y="109.9">3<tspan class="pi">π</tspan>/8</text><text class="th" x="880.1" y="92.4"><tspan class="pi">π</tspan>/2</text><text class="th" x="770.2" y="110">5<tspan class="pi">π</tspan>/8</text><text class="th" x="695.2" y="160.7">3<tspan class="pi">π</tspan>/4</text><text class="th" x="644.7" y="226.2">7<tspan class="pi">π</tspan>/8</text><text class="th" x="643.2" y="334.2"><tspan class="pi">π</tspan></text><text class="th" x="644.6" y="402.8">9<tspan class="pi">π</tspan>/8</text><text class="th" x="695.2" y="508.4">5<tspan class="pi">π</tspan>/4</text><text class="th" x="766.2" y="559">11<tspan class="pi">π</tspan>/8</text><text class="th" x="879.5" y="576.8">3<tspan class="pi">π</tspan>/2</text><text class="th" x="995.4" y="559">13<tspan class="pi">π</tspan>/8</text><text class="th" x="1064.1" y="508.4">7<tspan class="pi">π</tspan>/4</text><text class="th" x="1120.5" y="403">15<tspan class="pi">π</tspan>/8</text></g>
<clipPath id="cs2_0"><polygon points="1268,203 1268,431.4 1452,431.4 1452,203"/></clipPath><clipPath id="sm2_0"><rect x="1268" y="431" width="184" height="10.6"/></clipPath><clipPath id="cx2"><path clip-rule="evenodd" d="M0 0H1772V1802H0ZM1365.7 321L1420.7 321L1420.7 362L1365.7 362Z"/></clipPath><clipPath id="ct2_0"><polygon points="1365.7,321 1420.7,321 1420.7,362 1365.7,362"/></clipPath><g><path d="M1633.95 328.2L1697.53 328.2A197.28 197.28 0 0 0 1682.51 252.71L1623.77 277.04A133.7 133.7 0 0 1 1633.95 328.2Z" fill="#b4d99a" stroke="#62bb46" stroke-width="4.6" stroke-linejoin="miter"/><path d="M1623.77 277.04L1640.9 269.94A152.24 152.24 0 0 0 1607.9 220.55L1594.79 233.66A133.7 133.7 0 0 1 1623.77 277.04Z" fill="#cce3a0" stroke="#8dc63f" stroke-width="4.6" stroke-linejoin="miter"/><path d="M1594.79 233.66L1607.53 220.92A151.71 151.71 0 0 0 1558.31 188.04L1551.41 204.68A133.7 133.7 0 0 1 1594.79 233.66Z" fill="#eef09e" stroke="#d7df23" stroke-width="4.6" stroke-linejoin="miter"/><path d="M1551.41 204.68L1560.61 182.49A157.72 157.72 0 0 0 1500.25 170.48L1500.25 194.5A133.7 133.7 0 0 1 1551.41 204.68Z" fill="#fedb95" stroke="#fdb813" stroke-width="4.6" stroke-linejoin="miter"/><path d="M1500.25 194.5L1500.25 187.79A140.41 140.41 0 0 0 1446.52 198.48L1449.09 204.68A133.7 133.7 0 0 1 1500.25 194.5Z" fill="#f9b48f" stroke="#f26522" stroke-width="4.6" stroke-linejoin="miter"/><path d="M1449.09 204.68L1446.38 198.15A140.76 140.76 0 0 0 1400.71 228.66L1405.71 233.66A133.7 133.7 0 0 1 1449.09 204.68Z" fill="#f6908f" stroke="#ed1c24" stroke-width="4.6" stroke-linejoin="miter"/><path d="M1405.71 233.66L1403.59 231.54A136.7 136.7 0 0 0 1373.95 275.89L1376.73 277.04A133.7 133.7 0 0 1 1405.71 233.66Z" fill="#f6a0a8" stroke="#ed145b" stroke-width="4.6" stroke-linejoin="miter"/><path d="M1376.73 277.04L1358.29 269.4A153.66 153.66 0 0 0 1346.59 328.2L1366.55 328.2A133.7 133.7 0 0 1 1376.73 277.04Z" fill="#eea2cb" stroke="#dd3d96" stroke-width="4.6" stroke-linejoin="miter"/><path d="M1366.55 328.2L1363.9 328.2A136.35 136.35 0 0 0 1374.28 380.38L1376.73 379.36A133.7 133.7 0 0 1 1366.55 328.2Z" fill="#cba3cf" stroke="#a54da0" stroke-width="4.6" stroke-linejoin="miter"/><path d="M1376.73 379.36L1376.73 379.36A133.7 133.7 0 0 0 1405.71 422.74L1405.71 422.74A133.7 133.7 0 0 1 1376.73 379.36Z" fill="#b3a0cc" stroke="#6b439b" stroke-width="4.6" stroke-linejoin="miter"/><path d="M1405.71 422.74L1405.71 422.74A133.7 133.7 0 0 0 1449.09 451.72L1449.09 451.72A133.7 133.7 0 0 1 1405.71 422.74Z" fill="#9da3ce" stroke="#3b479d" stroke-width="4.6" stroke-linejoin="miter"/><path d="M1449.09 451.72L1448.07 454.17A136.35 136.35 0 0 0 1500.25 464.55L1500.25 461.9A133.7 133.7 0 0 1 1449.09 451.72Z" fill="#97a7d1" stroke="#2e4fa2" stroke-width="4.6" stroke-linejoin="miter"/><path d="M1500.25 461.9L1500.25 464.55A136.35 136.35 0 0 0 1552.43 454.17L1551.41 451.72A133.7 133.7 0 0 1 1500.25 461.9Z" fill="#9ec7ee" stroke="#3d8fdc" stroke-width="4.6" stroke-linejoin="miter"/><path d="M1551.41 451.72L1551.41 451.72A133.7 133.7 0 0 0 1594.79 422.74L1594.79 422.74A133.7 133.7 0 0 1 1551.41 451.72Z" fill="#b6e7fb" stroke="#6dcff6" stroke-width="4.6" stroke-linejoin="miter"/><path d="M1594.79 422.74L1594.79 422.74A133.7 133.7 0 0 0 1623.77 379.36L1623.77 379.36A133.7 133.7 0 0 1 1594.79 422.74Z" fill="#b7e7cb" stroke="#6fcf97" stroke-width="4.6" stroke-linejoin="miter"/><path d="M1623.77 379.36L1623.77 379.36A133.7 133.7 0 0 0 1633.95 328.2L1633.95 328.2A133.7 133.7 0 0 1 1623.77 379.36Z" fill="#b5de9f" stroke="#6abd45" stroke-width="4.6" stroke-linejoin="miter"/><g fill="none" stroke="#b5b5b9" stroke-width="1.35"><circle cx="1500.25" cy="328.2" r="133.7"/><circle cx="1500.25" cy="328.2" r="155.77"/><circle cx="1500.25" cy="328.2" r="177.85"/><circle cx="1500.25" cy="328.2" r="199.92"/><path d="M1633.95 328.2L1722.25 328.2"/><path d="M1623.77 277.04L1705.35 243.24"/><path d="M1594.79 233.66L1657.23 171.22"/><path d="M1551.41 204.68L1585.21 123.1"/><path d="M1500.25 194.5L1500.25 106.2"/><path d="M1449.09 204.68L1415.29 123.1"/><path d="M1405.71 233.66L1343.27 171.22"/><path d="M1376.73 277.04L1295.15 243.24"/><path d="M1366.55 328.2L1278.25 328.2"/><path d="M1376.73 379.36L1295.15 413.16"/><path d="M1405.71 422.74L1343.27 485.18"/><path d="M1449.09 451.72L1415.29 533.3"/><path d="M1500.25 461.9L1500.25 550.2"/><path d="M1551.41 451.72L1585.21 533.3"/><path d="M1594.79 422.74L1657.23 485.18"/><path d="M1623.77 379.36L1705.35 413.16"/></g><circle cx="1500.25" cy="328.2" r="222" fill="none" stroke="#7d7d7d" stroke-width="1.2"/><g clip-path="url(#cs2_0)"><g fill="#fff"><polygon points="1268,203 1268,431.4 1452,431.4 1452,203"/></g><g transform="translate(0 -19.7)" filter="url(#bl)"><path d="M1633.95 328.2L1697.53 328.2A197.28 197.28 0 0 0 1682.51 252.71L1623.77 277.04A133.7 133.7 0 0 1 1633.95 328.2Z" fill="#b4d99a" stroke="#62bb46" stroke-width="4.6" stroke-linejoin="miter"/><path d="M1623.77 277.04L1640.9 269.94A152.24 152.24 0 0 0 1607.9 220.55L1594.79 233.66A133.7 133.7 0 0 1 1623.77 277.04Z" fill="#cce3a0" stroke="#8dc63f" stroke-width="4.6" stroke-linejoin="miter"/><path d="M1594.79 233.66L1607.53 220.92A151.71 151.71 0 0 0 1558.31 188.04L1551.41 204.68A133.7 133.7 0 0 1 1594.79 233.66Z" fill="#eef09e" stroke="#d7df23" stroke-width="4.6" stroke-linejoin="miter"/><path d="M1551.41 204.68L1560.61 182.49A157.72 157.72 0 0 0 1500.25 170.48L1500.25 194.5A133.7 133.7 0 0 1 1551.41 204.68Z" fill="#fedb95" stroke="#fdb813" stroke-width="4.6" stroke-linejoin="miter"/><path d="M1500.25 194.5L1500.25 187.79A140.41 140.41 0 0 0 1446.52 198.48L1449.09 204.68A133.7 133.7 0 0 1 1500.25 194.5Z" fill="#f9b48f" stroke="#f26522" stroke-width="4.6" stroke-linejoin="miter"/><path d="M1449.09 204.68L1446.38 198.15A140.76 140.76 0 0 0 1400.71 228.66L1405.71 233.66A133.7 133.7 0 0 1 1449.09 204.68Z" fill="#f6908f" stroke="#ed1c24" stroke-width="4.6" stroke-linejoin="miter"/><path d="M1405.71 233.66L1403.59 231.54A136.7 136.7 0 0 0 1373.95 275.89L1376.73 277.04A133.7 133.7 0 0 1 1405.71 233.66Z" fill="#f6a0a8" stroke="#ed145b" stroke-width="4.6" stroke-linejoin="miter"/><path d="M1376.73 277.04L1358.29 269.4A153.66 153.66 0 0 0 1346.59 328.2L1366.55 328.2A133.7 133.7 0 0 1 1376.73 277.04Z" fill="#eea2cb" stroke="#dd3d96" stroke-width="4.6" stroke-linejoin="miter"/><path d="M1366.55 328.2L1363.9 328.2A136.35 136.35 0 0 0 1374.28 380.38L1376.73 379.36A133.7 133.7 0 0 1 1366.55 328.2Z" fill="#cba3cf" stroke="#a54da0" stroke-width="4.6" stroke-linejoin="miter"/><path d="M1376.73 379.36L1376.73 379.36A133.7 133.7 0 0 0 1405.71 422.74L1405.71 422.74A133.7 133.7 0 0 1 1376.73 379.36Z" fill="#b3a0cc" stroke="#6b439b" stroke-width="4.6" stroke-linejoin="miter"/><path d="M1405.71 422.74L1405.71 422.74A133.7 133.7 0 0 0 1449.09 451.72L1449.09 451.72A133.7 133.7 0 0 1 1405.71 422.74Z" fill="#9da3ce" stroke="#3b479d" stroke-width="4.6" stroke-linejoin="miter"/><path d="M1449.09 451.72L1448.07 454.17A136.35 136.35 0 0 0 1500.25 464.55L1500.25 461.9A133.7 133.7 0 0 1 1449.09 451.72Z" fill="#97a7d1" stroke="#2e4fa2" stroke-width="4.6" stroke-linejoin="miter"/><path d="M1500.25 461.9L1500.25 464.55A136.35 136.35 0 0 0 1552.43 454.17L1551.41 451.72A133.7 133.7 0 0 1 1500.25 461.9Z" fill="#9ec7ee" stroke="#3d8fdc" stroke-width="4.6" stroke-linejoin="miter"/><path d="M1551.41 451.72L1551.41 451.72A133.7 133.7 0 0 0 1594.79 422.74L1594.79 422.74A133.7 133.7 0 0 1 1551.41 451.72Z" fill="#b6e7fb" stroke="#6dcff6" stroke-width="4.6" stroke-linejoin="miter"/><path d="M1594.79 422.74L1594.79 422.74A133.7 133.7 0 0 0 1623.77 379.36L1623.77 379.36A133.7 133.7 0 0 1 1594.79 422.74Z" fill="#b7e7cb" stroke="#6fcf97" stroke-width="4.6" stroke-linejoin="miter"/><path d="M1623.77 379.36L1623.77 379.36A133.7 133.7 0 0 0 1633.95 328.2L1633.95 328.2A133.7 133.7 0 0 1 1623.77 379.36Z" fill="#b5de9f" stroke="#6abd45" stroke-width="4.6" stroke-linejoin="miter"/><g fill="none" stroke="#cacace" stroke-width="1.35"><circle cx="1500.25" cy="328.2" r="133.7"/><circle cx="1500.25" cy="328.2" r="155.77"/><circle cx="1500.25" cy="328.2" r="177.85"/><circle cx="1500.25" cy="328.2" r="199.92"/><path d="M1633.95 328.2L1722.25 328.2"/><path d="M1623.77 277.04L1705.35 243.24"/><path d="M1594.79 233.66L1657.23 171.22"/><path d="M1551.41 204.68L1585.21 123.1"/><path d="M1500.25 194.5L1500.25 106.2"/><path d="M1449.09 204.68L1415.29 123.1"/><path d="M1405.71 233.66L1343.27 171.22"/><path d="M1376.73 277.04L1295.15 243.24"/><path d="M1366.55 328.2L1278.25 328.2"/><path d="M1376.73 379.36L1295.15 413.16"/><path d="M1405.71 422.74L1343.27 485.18"/><path d="M1449.09 451.72L1415.29 533.3"/><path d="M1500.25 461.9L1500.25 550.2"/><path d="M1551.41 451.72L1585.21 533.3"/><path d="M1594.79 422.74L1657.23 485.18"/><path d="M1623.77 379.36L1705.35 413.16"/></g><circle cx="1500.25" cy="328.2" r="222" fill="none" stroke="#999" stroke-width="1.2"/></g></g><g clip-path="url(#sm2_0)"><rect x="1268" y="431" width="184" height="10.6" fill="#fff"/><g transform="translate(0 431.4) scale(1 12.75) translate(0 -430.6)"><g transform="translate(0 -19.7)"><path d="M1633.95 328.2L1697.53 328.2A197.28 197.28 0 0 0 1682.51 252.71L1623.77 277.04A133.7 133.7 0 0 1 1633.95 328.2Z" fill="#b4d99a" stroke="#62bb46" stroke-width="4.6" stroke-linejoin="miter"/><path d="M1623.77 277.04L1640.9 269.94A152.24 152.24 0 0 0 1607.9 220.55L1594.79 233.66A133.7 133.7 0 0 1 1623.77 277.04Z" fill="#cce3a0" stroke="#8dc63f" stroke-width="4.6" stroke-linejoin="miter"/><path d="M1594.79 233.66L1607.53 220.92A151.71 151.71 0 0 0 1558.31 188.04L1551.41 204.68A133.7 133.7 0 0 1 1594.79 233.66Z" fill="#eef09e" stroke="#d7df23" stroke-width="4.6" stroke-linejoin="miter"/><path d="M1551.41 204.68L1560.61 182.49A157.72 157.72 0 0 0 1500.25 170.48L1500.25 194.5A133.7 133.7 0 0 1 1551.41 204.68Z" fill="#fedb95" stroke="#fdb813" stroke-width="4.6" stroke-linejoin="miter"/><path d="M1500.25 194.5L1500.25 187.79A140.41 140.41 0 0 0 1446.52 198.48L1449.09 204.68A133.7 133.7 0 0 1 1500.25 194.5Z" fill="#f9b48f" stroke="#f26522" stroke-width="4.6" stroke-linejoin="miter"/><path d="M1449.09 204.68L1446.38 198.15A140.76 140.76 0 0 0 1400.71 228.66L1405.71 233.66A133.7 133.7 0 0 1 1449.09 204.68Z" fill="#f6908f" stroke="#ed1c24" stroke-width="4.6" stroke-linejoin="miter"/><path d="M1405.71 233.66L1403.59 231.54A136.7 136.7 0 0 0 1373.95 275.89L1376.73 277.04A133.7 133.7 0 0 1 1405.71 233.66Z" fill="#f6a0a8" stroke="#ed145b" stroke-width="4.6" stroke-linejoin="miter"/><path d="M1376.73 277.04L1358.29 269.4A153.66 153.66 0 0 0 1346.59 328.2L1366.55 328.2A133.7 133.7 0 0 1 1376.73 277.04Z" fill="#eea2cb" stroke="#dd3d96" stroke-width="4.6" stroke-linejoin="miter"/><path d="M1366.55 328.2L1363.9 328.2A136.35 136.35 0 0 0 1374.28 380.38L1376.73 379.36A133.7 133.7 0 0 1 1366.55 328.2Z" fill="#cba3cf" stroke="#a54da0" stroke-width="4.6" stroke-linejoin="miter"/><path d="M1376.73 379.36L1376.73 379.36A133.7 133.7 0 0 0 1405.71 422.74L1405.71 422.74A133.7 133.7 0 0 1 1376.73 379.36Z" fill="#b3a0cc" stroke="#6b439b" stroke-width="4.6" stroke-linejoin="miter"/><path d="M1405.71 422.74L1405.71 422.74A133.7 133.7 0 0 0 1449.09 451.72L1449.09 451.72A133.7 133.7 0 0 1 1405.71 422.74Z" fill="#9da3ce" stroke="#3b479d" stroke-width="4.6" stroke-linejoin="miter"/><path d="M1449.09 451.72L1448.07 454.17A136.35 136.35 0 0 0 1500.25 464.55L1500.25 461.9A133.7 133.7 0 0 1 1449.09 451.72Z" fill="#97a7d1" stroke="#2e4fa2" stroke-width="4.6" stroke-linejoin="miter"/><path d="M1500.25 461.9L1500.25 464.55A136.35 136.35 0 0 0 1552.43 454.17L1551.41 451.72A133.7 133.7 0 0 1 1500.25 461.9Z" fill="#9ec7ee" stroke="#3d8fdc" stroke-width="4.6" stroke-linejoin="miter"/><path d="M1551.41 451.72L1551.41 451.72A133.7 133.7 0 0 0 1594.79 422.74L1594.79 422.74A133.7 133.7 0 0 1 1551.41 451.72Z" fill="#b6e7fb" stroke="#6dcff6" stroke-width="4.6" stroke-linejoin="miter"/><path d="M1594.79 422.74L1594.79 422.74A133.7 133.7 0 0 0 1623.77 379.36L1623.77 379.36A133.7 133.7 0 0 1 1594.79 422.74Z" fill="#b7e7cb" stroke="#6fcf97" stroke-width="4.6" stroke-linejoin="miter"/><path d="M1623.77 379.36L1623.77 379.36A133.7 133.7 0 0 0 1633.95 328.2L1633.95 328.2A133.7 133.7 0 0 1 1623.77 379.36Z" fill="#b5de9f" stroke="#6abd45" stroke-width="4.6" stroke-linejoin="miter"/><g fill="none" stroke="#cacace" stroke-width="1.35"><circle cx="1500.25" cy="328.2" r="133.7"/><circle cx="1500.25" cy="328.2" r="155.77"/><circle cx="1500.25" cy="328.2" r="177.85"/><circle cx="1500.25" cy="328.2" r="199.92"/><path d="M1633.95 328.2L1722.25 328.2"/><path d="M1623.77 277.04L1705.35 243.24"/><path d="M1594.79 233.66L1657.23 171.22"/><path d="M1551.41 204.68L1585.21 123.1"/><path d="M1500.25 194.5L1500.25 106.2"/><path d="M1449.09 204.68L1415.29 123.1"/><path d="M1405.71 233.66L1343.27 171.22"/><path d="M1376.73 277.04L1295.15 243.24"/><path d="M1366.55 328.2L1278.25 328.2"/><path d="M1376.73 379.36L1295.15 413.16"/><path d="M1405.71 422.74L1343.27 485.18"/><path d="M1449.09 451.72L1415.29 533.3"/><path d="M1500.25 461.9L1500.25 550.2"/><path d="M1551.41 451.72L1585.21 533.3"/><path d="M1594.79 422.74L1657.23 485.18"/><path d="M1623.77 379.36L1705.35 413.16"/></g><circle cx="1500.25" cy="328.2" r="222" fill="none" stroke="#999" stroke-width="1.2"/></g></g></g><g clip-path="url(#cx2)"><text class="wd" transform="translate(1500.75 327.8) rotate(-11.25)" x="126.5" y="-0.7">happy</text><text class="wd" transform="translate(1500.75 327.8) rotate(-33.75)" x="126.5" y="-0.7">elated</text><text class="wd" transform="translate(1500.75 327.8) rotate(-56.25)" x="126.5" y="-0.7">excited</text><text class="wd" transform="translate(1500.75 327.8) rotate(-78.75)" x="126.5" y="-0.7">alert</text><text class="wd" transform="translate(1500.75 327.8) rotate(-101.25)" x="126.5" y="-0.7">tense</text><text class="wd" transform="translate(1500.75 327.8) rotate(-123.75)" x="126.5" y="-0.7">nervous</text><text class="wd" transform="translate(1500.75 327.8) rotate(-146.25)" x="126.5" y="-0.7">stressed</text><text class="wd" transform="translate(1500.75 327.8) rotate(-168.75)" x="126.5" y="-0.7">upset</text><text class="wd" transform="translate(1500.75 327.8) rotate(-191.25)" x="126.5" y="-0.7">sad</text><text class="wd" transform="translate(1500.75 327.8) rotate(-213.75)" x="126.5" y="-0.7">depressed</text><text class="wd" transform="translate(1500.75 327.8) rotate(-236.25)" x="126.5" y="-0.7">lethargic</text><text class="wd" transform="translate(1500.75 327.8) rotate(-258.75)" x="126.5" y="-0.7">fatigued</text><text class="wd" transform="translate(1500.75 327.8) rotate(-281.25)" x="126.5" y="-0.7">calm</text><text class="wd" transform="translate(1500.75 327.8) rotate(-303.75)" x="126.5" y="-0.7">relaxed</text><text class="wd" transform="translate(1500.75 327.8) rotate(-326.25)" x="126.5" y="-0.7">serene</text><text class="wd" transform="translate(1500.75 327.8) rotate(-348.75)" x="126.5" y="-0.7">contented</text><text class="rt" transform="translate(1594.79 233.66) rotate(45)" x="0" y="0">0%</text><text class="rt" transform="translate(1610.4 218.05) rotate(45)" x="0" y="0">12%</text><text class="rt" transform="translate(1626.01 202.44) rotate(45)" x="0" y="0">25%</text><text class="rt" transform="translate(1641.62 186.83) rotate(45)" x="0" y="0">38%</text><text class="rt" transform="translate(1657.23 171.22) rotate(45)" x="0" y="0">50%</text></g><g clip-path="url(#ct2_0)"><g transform="translate(0 -19.7)"><text class="wd" transform="translate(1500.75 327.8) rotate(-191.25)" x="126.5" y="-0.7">sad</text></g></g><rect x="1268" y="441.1" width="184" height="11.8" fill="#fff"/><rect x="1630" y="315.5" width="94" height="21.3" fill="#fff"/><rect x="1762.8" y="400" width="9.2" height="30" fill="#fff"/><text class="ti" x="1500.7" y="38.4">PoV_3</text><text class="su" x="1501.3" y="68.8">(Crosswalk)</text><text class="th" x="1737.55" y="334.2">0</text><text class="th" x="1729.25" y="246.2"><tspan class="pi">π</tspan>/8</text><text class="th" x="1679.15" y="160.7"><tspan class="pi">π</tspan>/4</text><text class="th" x="1609.45" y="109.9">3<tspan class="pi">π</tspan>/8</text><text class="th" x="1500.85" y="92.4"><tspan class="pi">π</tspan>/2</text><text class="th" x="1390.95" y="110">5<tspan class="pi">π</tspan>/8</text><text class="th" x="1315.95" y="160.7">3<tspan class="pi">π</tspan>/4</text><text class="th" x="1265.45" y="226.2">7<tspan class="pi">π</tspan>/8</text><text class="th" x="1263.95" y="334.2"><tspan class="pi">π</tspan></text><text class="th" x="1265.35" y="402.8">9<tspan class="pi">π</tspan>/8</text><text class="th" x="1315.95" y="508.4">5<tspan class="pi">π</tspan>/4</text><text class="th" x="1386.95" y="559">11<tspan class="pi">π</tspan>/8</text><text class="th" x="1500.25" y="576.8">3<tspan class="pi">π</tspan>/2</text><text class="th" x="1616.15" y="559">13<tspan class="pi">π</tspan>/8</text><text class="th" x="1684.85" y="508.4">7<tspan class="pi">π</tspan>/4</text><text class="th" x="1741.25" y="423">15<tspan class="pi">π</tspan>/8</text></g>
<clipPath id="cs3_0"><polygon points="265,812.5 265,861.9 290,861.9 290,812.5"/><polygon points="316,812.5 316,854.9 345,854.9 345,867.9 352,867.9 352,1020.5 492,1020.5 492,812.5"/><polygon points="270,1009.9 352,1009.9 352,1020.5 270,1020.5"/></clipPath><clipPath id="sm3_0"><rect x="270" y="1020.1" width="222" height="9.4"/></clipPath><clipPath id="cx3"><path clip-rule="evenodd" d="M0 0H1772V1802H0ZM265 812.5L265 861.9L290 861.9L290 812.5ZM316 812.5L316 854.9L345 854.9L345 867.9L352 867.9L352 1020.5L492 1020.5L492 812.5ZM270 1009.9L352 1009.9L352 1020.5L270 1020.5Z"/></clipPath><clipPath id="ct3_0"><polygon points="265,812.5 265,861.9 290,861.9 290,812.5"/><polygon points="316,812.5 316,854.9 345,854.9 345,867.9 352,867.9 352,1020.5 492,1020.5 492,812.5"/><polygon points="270,1009.9 352,1009.9 352,1020.5 270,1020.5"/></clipPath><g><path d="M393.1 938.1L476.98 938.1A217.58 217.58 0 0 0 460.42 854.83L382.92 886.94A133.7 133.7 0 0 1 393.1 938.1Z" fill="#b4d99a" stroke="#62bb46" stroke-width="4.6" stroke-linejoin="miter"/><path d="M382.92 886.94L385.86 885.72A136.88 136.88 0 0 0 356.19 841.31L353.94 843.56A133.7 133.7 0 0 1 382.92 886.94Z" fill="#cce3a0" stroke="#8dc63f" stroke-width="4.6" stroke-linejoin="miter"/><path d="M353.94 843.56L355.94 841.56A136.53 136.53 0 0 0 311.65 811.97L310.56 814.58A133.7 133.7 0 0 1 353.94 843.56Z" fill="#eef09e" stroke="#d7df23" stroke-width="4.6" stroke-linejoin="miter"/><path d="M310.56 814.58L321.11 789.12A161.25 161.25 0 0 0 259.4 776.85L259.4 804.4A133.7 133.7 0 0 1 310.56 814.58Z" fill="#fedb95" stroke="#fdb813" stroke-width="4.6" stroke-linejoin="miter"/><path d="M259.4 804.4L259.4 790.63A147.47 147.47 0 0 0 202.96 801.85L208.24 814.58A133.7 133.7 0 0 1 259.4 804.4Z" fill="#f9b48f" stroke="#f26522" stroke-width="4.6" stroke-linejoin="miter"/><path d="M208.24 814.58L205.53 808.05A140.76 140.76 0 0 0 159.86 838.56L164.86 843.56A133.7 133.7 0 0 1 208.24 814.58Z" fill="#f6908f" stroke="#ed1c24" stroke-width="4.6" stroke-linejoin="miter"/><path d="M164.86 843.56L162.99 841.69A136.35 136.35 0 0 0 133.43 885.92L135.88 886.94A133.7 133.7 0 0 1 164.86 843.56Z" fill="#f6a0a8" stroke="#ed145b" stroke-width="4.6" stroke-linejoin="miter"/><path d="M135.88 886.94L123.8 881.93A146.77 146.77 0 0 0 112.63 938.1L125.7 938.1A133.7 133.7 0 0 1 135.88 886.94Z" fill="#eea2cb" stroke="#dd3d96" stroke-width="4.6" stroke-linejoin="miter"/><path d="M125.7 938.1L123.4 938.1A136 136 0 0 0 133.76 990.14L135.88 989.26A133.7 133.7 0 0 1 125.7 938.1Z" fill="#cba3cf" stroke="#a54da0" stroke-width="4.6" stroke-linejoin="miter"/><path d="M135.88 989.26L135.88 989.26A133.7 133.7 0 0 0 164.86 1032.64L164.86 1032.64A133.7 133.7 0 0 1 135.88 989.26Z" fill="#b3a0cc" stroke="#6b439b" stroke-width="4.6" stroke-linejoin="miter"/><path d="M164.86 1032.64L164.86 1032.64A133.7 133.7 0 0 0 208.24 1061.62L208.24 1061.62A133.7 133.7 0 0 1 164.86 1032.64Z" fill="#9da3ce" stroke="#3b479d" stroke-width="4.6" stroke-linejoin="miter"/><path d="M208.24 1061.62L208.24 1061.62A133.7 133.7 0 0 0 259.4 1071.8L259.4 1071.8A133.7 133.7 0 0 1 208.24 1061.62Z" fill="#97a7d1" stroke="#2e4fa2" stroke-width="4.6" stroke-linejoin="miter"/><path d="M259.4 1071.8L259.4 1074.45A136.35 136.35 0 0 0 311.58 1064.07L310.56 1061.62A133.7 133.7 0 0 1 259.4 1071.8Z" fill="#9ec7ee" stroke="#3d8fdc" stroke-width="4.6" stroke-linejoin="miter"/><path d="M310.56 1061.62L310.56 1061.62A133.7 133.7 0 0 0 353.94 1032.64L353.94 1032.64A133.7 133.7 0 0 1 310.56 1061.62Z" fill="#b6e7fb" stroke="#6dcff6" stroke-width="4.6" stroke-linejoin="miter"/><path d="M353.94 1032.64L353.94 1032.64A133.7 133.7 0 0 0 382.92 989.26L382.92 989.26A133.7 133.7 0 0 1 353.94 1032.64Z" fill="#b7e7cb" stroke="#6fcf97" stroke-width="4.6" stroke-linejoin="miter"/><path d="M382.92 989.26L382.92 989.26A133.7 133.7 0 0 0 393.1 938.1L393.1 938.1A133.7 133.7 0 0 1 382.92 989.26Z" fill="#b5de9f" stroke="#6abd45" stroke-width="4.6" stroke-linejoin="miter"/><g fill="none" stroke="#b5b5b9" stroke-width="1.35"><circle cx="259.4" cy="938.1" r="133.7"/><circle cx="259.4" cy="938.1" r="155.77"/><circle cx="259.4" cy="938.1" r="177.85"/><circle cx="259.4" cy="938.1" r="199.92"/><path d="M393.1 938.1L481.4 938.1"/><path d="M382.92 886.94L464.5 853.14"/><path d="M353.94 843.56L416.38 781.12"/><path d="M310.56 814.58L344.36 733"/><path d="M259.4 804.4L259.4 716.1"/><path d="M208.24 814.58L174.44 733"/><path d="M164.86 843.56L102.42 781.12"/><path d="M135.88 886.94L54.3 853.14"/><path d="M125.7 938.1L37.4 938.1"/><path d="M135.88 989.26L54.3 1023.06"/><path d="M164.86 1032.64L102.42 1095.08"/><path d="M208.24 1061.62L174.44 1143.2"/><path d="M259.4 1071.8L259.4 1160.1"/><path d="M310.56 1061.62L344.36 1143.2"/><path d="M353.94 1032.64L416.38 1095.08"/><path d="M382.92 989.26L464.5 1023.06"/></g><circle cx="259.4" cy="938.1" r="222" fill="none" stroke="#7d7d7d" stroke-width="1.2"/><g clip-path="url(#cs3_0)"><g fill="#fff"><polygon points="265,812.5 265,861.9 290,861.9 290,812.5"/><polygon points="316,812.5 316,854.9 345,854.9 345,867.9 352,867.9 352,1020.5 492,1020.5 492,812.5"/><polygon points="270,1009.9 352,1009.9 352,1020.5 270,1020.5"/></g><g transform="translate(0 -9.5)" filter="url(#bl)"><path d="M393.1 938.1L476.98 938.1A217.58 217.58 0 0 0 460.42 854.83L382.92 886.94A133.7 133.7 0 0 1 393.1 938.1Z" fill="#b4d99a" stroke="#62bb46" stroke-width="4.6" stroke-linejoin="miter"/><path d="M382.92 886.94L385.86 885.72A136.88 136.88 0 0 0 356.19 841.31L353.94 843.56A133.7 133.7 0 0 1 382.92 886.94Z" fill="#cce3a0" stroke="#8dc63f" stroke-width="4.6" stroke-linejoin="miter"/><path d="M353.94 843.56L355.94 841.56A136.53 136.53 0 0 0 311.65 811.97L310.56 814.58A133.7 133.7 0 0 1 353.94 843.56Z" fill="#eef09e" stroke="#d7df23" stroke-width="4.6" stroke-linejoin="miter"/><path d="M310.56 814.58L321.11 789.12A161.25 161.25 0 0 0 259.4 776.85L259.4 804.4A133.7 133.7 0 0 1 310.56 814.58Z" fill="#fedb95" stroke="#fdb813" stroke-width="4.6" stroke-linejoin="miter"/><path d="M259.4 804.4L259.4 790.63A147.47 147.47 0 0 0 202.96 801.85L208.24 814.58A133.7 133.7 0 0 1 259.4 804.4Z" fill="#f9b48f" stroke="#f26522" stroke-width="4.6" stroke-linejoin="miter"/><path d="M208.24 814.58L205.53 808.05A140.76 140.76 0 0 0 159.86 838.56L164.86 843.56A133.7 133.7 0 0 1 208.24 814.58Z" fill="#f6908f" stroke="#ed1c24" stroke-width="4.6" stroke-linejoin="miter"/><path d="M164.86 843.56L162.99 841.69A136.35 136.35 0 0 0 133.43 885.92L135.88 886.94A133.7 133.7 0 0 1 164.86 843.56Z" fill="#f6a0a8" stroke="#ed145b" stroke-width="4.6" stroke-linejoin="miter"/><path d="M135.88 886.94L123.8 881.93A146.77 146.77 0 0 0 112.63 938.1L125.7 938.1A133.7 133.7 0 0 1 135.88 886.94Z" fill="#eea2cb" stroke="#dd3d96" stroke-width="4.6" stroke-linejoin="miter"/><path d="M125.7 938.1L123.4 938.1A136 136 0 0 0 133.76 990.14L135.88 989.26A133.7 133.7 0 0 1 125.7 938.1Z" fill="#cba3cf" stroke="#a54da0" stroke-width="4.6" stroke-linejoin="miter"/><path d="M135.88 989.26L135.88 989.26A133.7 133.7 0 0 0 164.86 1032.64L164.86 1032.64A133.7 133.7 0 0 1 135.88 989.26Z" fill="#b3a0cc" stroke="#6b439b" stroke-width="4.6" stroke-linejoin="miter"/><path d="M164.86 1032.64L164.86 1032.64A133.7 133.7 0 0 0 208.24 1061.62L208.24 1061.62A133.7 133.7 0 0 1 164.86 1032.64Z" fill="#9da3ce" stroke="#3b479d" stroke-width="4.6" stroke-linejoin="miter"/><path d="M208.24 1061.62L208.24 1061.62A133.7 133.7 0 0 0 259.4 1071.8L259.4 1071.8A133.7 133.7 0 0 1 208.24 1061.62Z" fill="#97a7d1" stroke="#2e4fa2" stroke-width="4.6" stroke-linejoin="miter"/><path d="M259.4 1071.8L259.4 1074.45A136.35 136.35 0 0 0 311.58 1064.07L310.56 1061.62A133.7 133.7 0 0 1 259.4 1071.8Z" fill="#9ec7ee" stroke="#3d8fdc" stroke-width="4.6" stroke-linejoin="miter"/><path d="M310.56 1061.62L310.56 1061.62A133.7 133.7 0 0 0 353.94 1032.64L353.94 1032.64A133.7 133.7 0 0 1 310.56 1061.62Z" fill="#b6e7fb" stroke="#6dcff6" stroke-width="4.6" stroke-linejoin="miter"/><path d="M353.94 1032.64L353.94 1032.64A133.7 133.7 0 0 0 382.92 989.26L382.92 989.26A133.7 133.7 0 0 1 353.94 1032.64Z" fill="#b7e7cb" stroke="#6fcf97" stroke-width="4.6" stroke-linejoin="miter"/><path d="M382.92 989.26L382.92 989.26A133.7 133.7 0 0 0 393.1 938.1L393.1 938.1A133.7 133.7 0 0 1 382.92 989.26Z" fill="#b5de9f" stroke="#6abd45" stroke-width="4.6" stroke-linejoin="miter"/><g fill="none" stroke="#cacace" stroke-width="1.35"><circle cx="259.4" cy="938.1" r="133.7"/><circle cx="259.4" cy="938.1" r="155.77"/><circle cx="259.4" cy="938.1" r="177.85"/><circle cx="259.4" cy="938.1" r="199.92"/><path d="M393.1 938.1L481.4 938.1"/><path d="M382.92 886.94L464.5 853.14"/><path d="M353.94 843.56L416.38 781.12"/><path d="M310.56 814.58L344.36 733"/><path d="M259.4 804.4L259.4 716.1"/><path d="M208.24 814.58L174.44 733"/><path d="M164.86 843.56L102.42 781.12"/><path d="M135.88 886.94L54.3 853.14"/><path d="M125.7 938.1L37.4 938.1"/><path d="M135.88 989.26L54.3 1023.06"/><path d="M164.86 1032.64L102.42 1095.08"/><path d="M208.24 1061.62L174.44 1143.2"/><path d="M259.4 1071.8L259.4 1160.1"/><path d="M310.56 1061.62L344.36 1143.2"/><path d="M353.94 1032.64L416.38 1095.08"/><path d="M382.92 989.26L464.5 1023.06"/></g><circle cx="259.4" cy="938.1" r="222" fill="none" stroke="#999" stroke-width="1.2"/></g></g><g clip-path="url(#sm3_0)"><rect x="270" y="1020.1" width="222" height="9.4" fill="#fff"/><g transform="translate(0 1020.5) scale(1 11.25) translate(0 -1019.7)"><g transform="translate(0 -9.5)"><path d="M393.1 938.1L476.98 938.1A217.58 217.58 0 0 0 460.42 854.83L382.92 886.94A133.7 133.7 0 0 1 393.1 938.1Z" fill="#b4d99a" stroke="#62bb46" stroke-width="4.6" stroke-linejoin="miter"/><path d="M382.92 886.94L385.86 885.72A136.88 136.88 0 0 0 356.19 841.31L353.94 843.56A133.7 133.7 0 0 1 382.92 886.94Z" fill="#cce3a0" stroke="#8dc63f" stroke-width="4.6" stroke-linejoin="miter"/><path d="M353.94 843.56L355.94 841.56A136.53 136.53 0 0 0 311.65 811.97L310.56 814.58A133.7 133.7 0 0 1 353.94 843.56Z" fill="#eef09e" stroke="#d7df23" stroke-width="4.6" stroke-linejoin="miter"/><path d="M310.56 814.58L321.11 789.12A161.25 161.25 0 0 0 259.4 776.85L259.4 804.4A133.7 133.7 0 0 1 310.56 814.58Z" fill="#fedb95" stroke="#fdb813" stroke-width="4.6" stroke-linejoin="miter"/><path d="M259.4 804.4L259.4 790.63A147.47 147.47 0 0 0 202.96 801.85L208.24 814.58A133.7 133.7 0 0 1 259.4 804.4Z" fill="#f9b48f" stroke="#f26522" stroke-width="4.6" stroke-linejoin="miter"/><path d="M208.24 814.58L205.53 808.05A140.76 140.76 0 0 0 159.86 838.56L164.86 843.56A133.7 133.7 0 0 1 208.24 814.58Z" fill="#f6908f" stroke="#ed1c24" stroke-width="4.6" stroke-linejoin="miter"/><path d="M164.86 843.56L162.99 841.69A136.35 136.35 0 0 0 133.43 885.92L135.88 886.94A133.7 133.7 0 0 1 164.86 843.56Z" fill="#f6a0a8" stroke="#ed145b" stroke-width="4.6" stroke-linejoin="miter"/><path d="M135.88 886.94L123.8 881.93A146.77 146.77 0 0 0 112.63 938.1L125.7 938.1A133.7 133.7 0 0 1 135.88 886.94Z" fill="#eea2cb" stroke="#dd3d96" stroke-width="4.6" stroke-linejoin="miter"/><path d="M125.7 938.1L123.4 938.1A136 136 0 0 0 133.76 990.14L135.88 989.26A133.7 133.7 0 0 1 125.7 938.1Z" fill="#cba3cf" stroke="#a54da0" stroke-width="4.6" stroke-linejoin="miter"/><path d="M135.88 989.26L135.88 989.26A133.7 133.7 0 0 0 164.86 1032.64L164.86 1032.64A133.7 133.7 0 0 1 135.88 989.26Z" fill="#b3a0cc" stroke="#6b439b" stroke-width="4.6" stroke-linejoin="miter"/><path d="M164.86 1032.64L164.86 1032.64A133.7 133.7 0 0 0 208.24 1061.62L208.24 1061.62A133.7 133.7 0 0 1 164.86 1032.64Z" fill="#9da3ce" stroke="#3b479d" stroke-width="4.6" stroke-linejoin="miter"/><path d="M208.24 1061.62L208.24 1061.62A133.7 133.7 0 0 0 259.4 1071.8L259.4 1071.8A133.7 133.7 0 0 1 208.24 1061.62Z" fill="#97a7d1" stroke="#2e4fa2" stroke-width="4.6" stroke-linejoin="miter"/><path d="M259.4 1071.8L259.4 1074.45A136.35 136.35 0 0 0 311.58 1064.07L310.56 1061.62A133.7 133.7 0 0 1 259.4 1071.8Z" fill="#9ec7ee" stroke="#3d8fdc" stroke-width="4.6" stroke-linejoin="miter"/><path d="M310.56 1061.62L310.56 1061.62A133.7 133.7 0 0 0 353.94 1032.64L353.94 1032.64A133.7 133.7 0 0 1 310.56 1061.62Z" fill="#b6e7fb" stroke="#6dcff6" stroke-width="4.6" stroke-linejoin="miter"/><path d="M353.94 1032.64L353.94 1032.64A133.7 133.7 0 0 0 382.92 989.26L382.92 989.26A133.7 133.7 0 0 1 353.94 1032.64Z" fill="#b7e7cb" stroke="#6fcf97" stroke-width="4.6" stroke-linejoin="miter"/><path d="M382.92 989.26L382.92 989.26A133.7 133.7 0 0 0 393.1 938.1L393.1 938.1A133.7 133.7 0 0 1 382.92 989.26Z" fill="#b5de9f" stroke="#6abd45" stroke-width="4.6" stroke-linejoin="miter"/><g fill="none" stroke="#cacace" stroke-width="1.35"><circle cx="259.4" cy="938.1" r="133.7"/><circle cx="259.4" cy="938.1" r="155.77"/><circle cx="259.4" cy="938.1" r="177.85"/><circle cx="259.4" cy="938.1" r="199.92"/><path d="M393.1 938.1L481.4 938.1"/><path d="M382.92 886.94L464.5 853.14"/><path d="M353.94 843.56L416.38 781.12"/><path d="M310.56 814.58L344.36 733"/><path d="M259.4 804.4L259.4 716.1"/><path d="M208.24 814.58L174.44 733"/><path d="M164.86 843.56L102.42 781.12"/><path d="M135.88 886.94L54.3 853.14"/><path d="M125.7 938.1L37.4 938.1"/><path d="M135.88 989.26L54.3 1023.06"/><path d="M164.86 1032.64L102.42 1095.08"/><path d="M208.24 1061.62L174.44 1143.2"/><path d="M259.4 1071.8L259.4 1160.1"/><path d="M310.56 1061.62L344.36 1143.2"/><path d="M353.94 1032.64L416.38 1095.08"/><path d="M382.92 989.26L464.5 1023.06"/></g><circle cx="259.4" cy="938.1" r="222" fill="none" stroke="#999" stroke-width="1.2"/></g></g></g><g clip-path="url(#cx3)"><text class="wd" transform="translate(259.9 937.7) rotate(-11.25)" x="126.5" y="-0.7">happy</text><text class="wd" transform="translate(259.9 937.7) rotate(-33.75)" x="126.5" y="-0.7">elated</text><text class="wd" transform="translate(259.9 937.7) rotate(-56.25)" x="126.5" y="-0.7">excited</text><text class="wd" transform="translate(259.9 937.7) rotate(-78.75)" x="126.5" y="-0.7">alert</text><text class="wd" transform="translate(259.9 937.7) rotate(-101.25)" x="126.5" y="-0.7">tense</text><text class="wd" transform="translate(259.9 937.7) rotate(-123.75)" x="126.5" y="-0.7">nervous</text><text class="wd" transform="translate(259.9 937.7) rotate(-146.25)" x="126.5" y="-0.7">stressed</text><text class="wd" transform="translate(259.9 937.7) rotate(-168.75)" x="126.5" y="-0.7">upset</text><text class="wd" transform="translate(259.9 937.7) rotate(-191.25)" x="126.5" y="-0.7">sad</text><text class="wd" transform="translate(259.9 937.7) rotate(-213.75)" x="126.5" y="-0.7">depressed</text><text class="wd" transform="translate(259.9 937.7) rotate(-236.25)" x="126.5" y="-0.7">lethargic</text><text class="wd" transform="translate(259.9 937.7) rotate(-258.75)" x="126.5" y="-0.7">fatigued</text><text class="wd" transform="translate(259.9 937.7) rotate(-281.25)" x="126.5" y="-0.7">calm</text><text class="wd" transform="translate(259.9 937.7) rotate(-303.75)" x="126.5" y="-0.7">relaxed</text><text class="wd" transform="translate(259.9 937.7) rotate(-326.25)" x="126.5" y="-0.7">serene</text><text class="wd" transform="translate(259.9 937.7) rotate(-348.75)" x="126.5" y="-0.7">contented</text><text class="rt" transform="translate(353.94 843.56) rotate(45)" x="0" y="0">0%</text><text class="rt" transform="translate(369.55 827.95) rotate(45)" x="0" y="0">12%</text><text class="rt" transform="translate(385.16 812.34) rotate(45)" x="0" y="0">25%</text><text class="rt" transform="translate(400.77 796.73) rotate(45)" x="0" y="0">38%</text><text class="rt" transform="translate(416.38 781.12) rotate(45)" x="0" y="0">50%</text></g><g clip-path="url(#ct3_0)"><g transform="translate(0 -9.5)"><text class="wd" transform="translate(259.9 937.7) rotate(-11.25)" x="126.5" y="-0.7">happy</text><text class="wd" transform="translate(259.9 937.7) rotate(-33.75)" x="126.5" y="-0.7">elated</text><text class="wd" transform="translate(259.9 937.7) rotate(-56.25)" x="126.5" y="-0.7">excited</text><text class="wd" transform="translate(259.9 937.7) rotate(-78.75)" x="126.5" y="-0.7">alert</text><text class="wd" transform="translate(259.9 937.7) rotate(-281.25)" x="126.5" y="-0.7">calm</text><text class="wd" transform="translate(259.9 937.7) rotate(-303.75)" x="126.5" y="-0.7">relaxed</text><text class="wd" transform="translate(259.9 937.7) rotate(-326.25)" x="126.5" y="-0.7">serene</text><text class="wd" transform="translate(259.9 937.7) rotate(-348.75)" x="126.5" y="-0.7">contented</text><text class="rt" transform="translate(353.94 843.56) rotate(45)" x="0" y="0">0%</text><text class="rt" transform="translate(369.55 827.95) rotate(45)" x="0" y="0">12%</text><text class="rt" transform="translate(385.16 812.34) rotate(45)" x="0" y="0">25%</text><text class="rt" transform="translate(400.77 796.73) rotate(45)" x="0" y="0">38%</text><text class="rt" transform="translate(416.38 781.12) rotate(45)" x="0" y="0">50%</text></g></g><rect x="79" y="944" width="49" height="2.5" fill="#fff"/><text class="ti" x="263.8" y="652.9">PoV_4</text><text class="su" x="264.6" y="684.5">(Square Entrance)</text><text class="th" x="496.7" y="944.1">0</text><text class="th" x="488.4" y="846.6"><tspan class="pi">π</tspan>/8</text><text class="th" x="438.3" y="770.6"><tspan class="pi">π</tspan>/4</text><text class="th" x="368.6" y="719.8">3<tspan class="pi">π</tspan>/8</text><text class="th" x="260" y="702.3"><tspan class="pi">π</tspan>/2</text><text class="th" x="150.1" y="719.9">5<tspan class="pi">π</tspan>/8</text><text class="th" x="75.1" y="770.6">3<tspan class="pi">π</tspan>/4</text><text class="th" x="24.6" y="856.1">7<tspan class="pi">π</tspan>/8</text><text class="th" x="23.1" y="944.1"><tspan class="pi">π</tspan></text><text class="th" x="24.5" y="1032.7">9<tspan class="pi">π</tspan>/8</text><text class="th" x="75.1" y="1118.3">5<tspan class="pi">π</tspan>/4</text><text class="th" x="146.1" y="1168.9">11<tspan class="pi">π</tspan>/8</text><text class="th" x="259.4" y="1186.7">3<tspan class="pi">π</tspan>/2</text><text class="th" x="375.3" y="1168.9">13<tspan class="pi">π</tspan>/8</text><text class="th" x="444" y="1118.3">7<tspan class="pi">π</tspan>/4</text><svg x="0" y="981.5" width="1772" height="40" viewBox="0 981.5 1772 40" overflow="hidden"><text class="th" x="500.4" y="1023.4">15<tspan class="pi">π</tspan>/8</text></svg><svg x="0" y="1021.5" width="1772" height="40" viewBox="0 1021.5 1772 40" overflow="hidden"><text class="th" x="500.4" y="1032.9">15<tspan class="pi">π</tspan>/8</text></svg></g>
<clipPath id="cs4_0"><polygon points="650,812.5 650,1020.5 830,1020.5 830,812.5"/><polygon points="977,812.5 977,1020.5 1112,1020.5 1112,812.5"/></clipPath><clipPath id="sm4_0"><rect x="650" y="1020.1" width="462" height="9.4"/></clipPath><clipPath id="cx4"><path clip-rule="evenodd" d="M0 0H1772V1802H0ZM936 812.5L936 855L965 855L965 868L972 868L972 1020.5L1112 1020.5L1112 832L985 832L985 812.5ZM890 1010L972 1010L972 1020.5L890 1020.5Z"/></clipPath><clipPath id="ct4_0"><polygon points="936,812.5 936,855 965,855 965,868 972,868 972,1020.5 1112,1020.5 1112,832 985,832 985,812.5"/><polygon points="890,1010 972,1010 972,1020.5 890,1020.5"/></clipPath><g><path d="M1013.2 938.1L1073.24 938.1A193.74 193.74 0 0 0 1058.5 863.96L1003.02 886.94A133.7 133.7 0 0 1 1013.2 938.1Z" fill="#b4d99a" stroke="#62bb46" stroke-width="4.6" stroke-linejoin="miter"/><path d="M1003.02 886.94L1014.77 882.07A146.42 146.42 0 0 0 983.03 834.57L974.04 843.56A133.7 133.7 0 0 1 1003.02 886.94Z" fill="#cce3a0" stroke="#8dc63f" stroke-width="4.6" stroke-linejoin="miter"/><path d="M974.04 843.56L974.04 843.56A133.7 133.7 0 0 0 930.66 814.58L930.66 814.58A133.7 133.7 0 0 1 974.04 843.56Z" fill="#eef09e" stroke="#d7df23" stroke-width="4.6" stroke-linejoin="miter"/><path d="M930.66 814.58L944.11 782.11A168.84 168.84 0 0 0 879.5 769.26L879.5 804.4A133.7 133.7 0 0 1 930.66 814.58Z" fill="#fedb95" stroke="#fdb813" stroke-width="4.6" stroke-linejoin="miter"/><path d="M879.5 804.4L879.5 787.62A150.48 150.48 0 0 0 821.91 799.08L828.34 814.58A133.7 133.7 0 0 1 879.5 804.4Z" fill="#f9b48f" stroke="#f26522" stroke-width="4.6" stroke-linejoin="miter"/><path d="M828.34 814.58L826.98 811.31A137.23 137.23 0 0 0 782.46 841.06L784.96 843.56A133.7 133.7 0 0 1 828.34 814.58Z" fill="#f6908f" stroke="#ed1c24" stroke-width="4.6" stroke-linejoin="miter"/><path d="M784.96 843.56L784.96 843.56A133.7 133.7 0 0 0 755.98 886.94L755.98 886.94A133.7 133.7 0 0 1 784.96 843.56Z" fill="#f6a0a8" stroke="#ed145b" stroke-width="4.6" stroke-linejoin="miter"/><path d="M755.98 886.94L724.16 873.76A168.14 168.14 0 0 0 711.36 938.1L745.8 938.1A133.7 133.7 0 0 1 755.98 886.94Z" fill="#eea2cb" stroke="#dd3d96" stroke-width="4.6" stroke-linejoin="miter"/><path d="M745.8 938.1L742.97 938.1A136.53 136.53 0 0 0 753.37 990.35L755.98 989.26A133.7 133.7 0 0 1 745.8 938.1Z" fill="#cba3cf" stroke="#a54da0" stroke-width="4.6" stroke-linejoin="miter"/><path d="M755.98 989.26L755.98 989.26A133.7 133.7 0 0 0 784.96 1032.64L784.96 1032.64A133.7 133.7 0 0 1 755.98 989.26Z" fill="#b3a0cc" stroke="#6b439b" stroke-width="4.6" stroke-linejoin="miter"/><path d="M784.96 1032.64L784.96 1032.64A133.7 133.7 0 0 0 828.34 1061.62L828.34 1061.62A133.7 133.7 0 0 1 784.96 1032.64Z" fill="#9da3ce" stroke="#3b479d" stroke-width="4.6" stroke-linejoin="miter"/><path d="M828.34 1061.62L828.34 1061.62A133.7 133.7 0 0 0 879.5 1071.8L879.5 1071.8A133.7 133.7 0 0 1 828.34 1061.62Z" fill="#97a7d1" stroke="#2e4fa2" stroke-width="4.6" stroke-linejoin="miter"/><path d="M879.5 1071.8L879.5 1074.45A136.35 136.35 0 0 0 931.68 1064.07L930.66 1061.62A133.7 133.7 0 0 1 879.5 1071.8Z" fill="#9ec7ee" stroke="#3d8fdc" stroke-width="4.6" stroke-linejoin="miter"/><path d="M930.66 1061.62L930.66 1061.62A133.7 133.7 0 0 0 974.04 1032.64L974.04 1032.64A133.7 133.7 0 0 1 930.66 1061.62Z" fill="#b6e7fb" stroke="#6dcff6" stroke-width="4.6" stroke-linejoin="miter"/><path d="M974.04 1032.64L974.04 1032.64A133.7 133.7 0 0 0 1003.02 989.26L1003.02 989.26A133.7 133.7 0 0 1 974.04 1032.64Z" fill="#b7e7cb" stroke="#6fcf97" stroke-width="4.6" stroke-linejoin="miter"/><path d="M1003.02 989.26L1003.02 989.26A133.7 133.7 0 0 0 1013.2 938.1L1013.2 938.1A133.7 133.7 0 0 1 1003.02 989.26Z" fill="#b5de9f" stroke="#6abd45" stroke-width="4.6" stroke-linejoin="miter"/><g fill="none" stroke="#b5b5b9" stroke-width="1.35"><circle cx="879.5" cy="938.1" r="133.7"/><circle cx="879.5" cy="938.1" r="155.77"/><circle cx="879.5" cy="938.1" r="177.85"/><circle cx="879.5" cy="938.1" r="199.92"/><path d="M1013.2 938.1L1101.5 938.1"/><path d="M1003.02 886.94L1084.6 853.14"/><path d="M974.04 843.56L1036.48 781.12"/><path d="M930.66 814.58L964.46 733"/><path d="M879.5 804.4L879.5 716.1"/><path d="M828.34 814.58L794.54 733"/><path d="M784.96 843.56L722.52 781.12"/><path d="M755.98 886.94L674.4 853.14"/><path d="M745.8 938.1L657.5 938.1"/><path d="M755.98 989.26L674.4 1023.06"/><path d="M784.96 1032.64L722.52 1095.08"/><path d="M828.34 1061.62L794.54 1143.2"/><path d="M879.5 1071.8L879.5 1160.1"/><path d="M930.66 1061.62L964.46 1143.2"/><path d="M974.04 1032.64L1036.48 1095.08"/><path d="M1003.02 989.26L1084.6 1023.06"/></g><circle cx="879.5" cy="938.1" r="222" fill="none" stroke="#7d7d7d" stroke-width="1.2"/><g clip-path="url(#cs4_0)"><g fill="#fff"><polygon points="650,812.5 650,1020.5 830,1020.5 830,812.5"/><polygon points="977,812.5 977,1020.5 1112,1020.5 1112,812.5"/></g><g transform="translate(0 -9.5)" filter="url(#bl)"><path d="M1013.2 938.1L1073.24 938.1A193.74 193.74 0 0 0 1058.5 863.96L1003.02 886.94A133.7 133.7 0 0 1 1013.2 938.1Z" fill="#b4d99a" stroke="#62bb46" stroke-width="4.6" stroke-linejoin="miter"/><path d="M1003.02 886.94L1014.77 882.07A146.42 146.42 0 0 0 983.03 834.57L974.04 843.56A133.7 133.7 0 0 1 1003.02 886.94Z" fill="#cce3a0" stroke="#8dc63f" stroke-width="4.6" stroke-linejoin="miter"/><path d="M974.04 843.56L974.04 843.56A133.7 133.7 0 0 0 930.66 814.58L930.66 814.58A133.7 133.7 0 0 1 974.04 843.56Z" fill="#eef09e" stroke="#d7df23" stroke-width="4.6" stroke-linejoin="miter"/><path d="M930.66 814.58L944.11 782.11A168.84 168.84 0 0 0 879.5 769.26L879.5 804.4A133.7 133.7 0 0 1 930.66 814.58Z" fill="#fedb95" stroke="#fdb813" stroke-width="4.6" stroke-linejoin="miter"/><path d="M879.5 804.4L879.5 787.62A150.48 150.48 0 0 0 821.91 799.08L828.34 814.58A133.7 133.7 0 0 1 879.5 804.4Z" fill="#f9b48f" stroke="#f26522" stroke-width="4.6" stroke-linejoin="miter"/><path d="M828.34 814.58L826.98 811.31A137.23 137.23 0 0 0 782.46 841.06L784.96 843.56A133.7 133.7 0 0 1 828.34 814.58Z" fill="#f6908f" stroke="#ed1c24" stroke-width="4.6" stroke-linejoin="miter"/><path d="M784.96 843.56L784.96 843.56A133.7 133.7 0 0 0 755.98 886.94L755.98 886.94A133.7 133.7 0 0 1 784.96 843.56Z" fill="#f6a0a8" stroke="#ed145b" stroke-width="4.6" stroke-linejoin="miter"/><path d="M755.98 886.94L724.16 873.76A168.14 168.14 0 0 0 711.36 938.1L745.8 938.1A133.7 133.7 0 0 1 755.98 886.94Z" fill="#eea2cb" stroke="#dd3d96" stroke-width="4.6" stroke-linejoin="miter"/><path d="M745.8 938.1L742.97 938.1A136.53 136.53 0 0 0 753.37 990.35L755.98 989.26A133.7 133.7 0 0 1 745.8 938.1Z" fill="#cba3cf" stroke="#a54da0" stroke-width="4.6" stroke-linejoin="miter"/><path d="M755.98 989.26L755.98 989.26A133.7 133.7 0 0 0 784.96 1032.64L784.96 1032.64A133.7 133.7 0 0 1 755.98 989.26Z" fill="#b3a0cc" stroke="#6b439b" stroke-width="4.6" stroke-linejoin="miter"/><path d="M784.96 1032.64L784.96 1032.64A133.7 133.7 0 0 0 828.34 1061.62L828.34 1061.62A133.7 133.7 0 0 1 784.96 1032.64Z" fill="#9da3ce" stroke="#3b479d" stroke-width="4.6" stroke-linejoin="miter"/><path d="M828.34 1061.62L828.34 1061.62A133.7 133.7 0 0 0 879.5 1071.8L879.5 1071.8A133.7 133.7 0 0 1 828.34 1061.62Z" fill="#97a7d1" stroke="#2e4fa2" stroke-width="4.6" stroke-linejoin="miter"/><path d="M879.5 1071.8L879.5 1074.45A136.35 136.35 0 0 0 931.68 1064.07L930.66 1061.62A133.7 133.7 0 0 1 879.5 1071.8Z" fill="#9ec7ee" stroke="#3d8fdc" stroke-width="4.6" stroke-linejoin="miter"/><path d="M930.66 1061.62L930.66 1061.62A133.7 133.7 0 0 0 974.04 1032.64L974.04 1032.64A133.7 133.7 0 0 1 930.66 1061.62Z" fill="#b6e7fb" stroke="#6dcff6" stroke-width="4.6" stroke-linejoin="miter"/><path d="M974.04 1032.64L974.04 1032.64A133.7 133.7 0 0 0 1003.02 989.26L1003.02 989.26A133.7 133.7 0 0 1 974.04 1032.64Z" fill="#b7e7cb" stroke="#6fcf97" stroke-width="4.6" stroke-linejoin="miter"/><path d="M1003.02 989.26L1003.02 989.26A133.7 133.7 0 0 0 1013.2 938.1L1013.2 938.1A133.7 133.7 0 0 1 1003.02 989.26Z" fill="#b5de9f" stroke="#6abd45" stroke-width="4.6" stroke-linejoin="miter"/><g fill="none" stroke="#cacace" stroke-width="1.35"><circle cx="879.5" cy="938.1" r="133.7"/><circle cx="879.5" cy="938.1" r="155.77"/><circle cx="879.5" cy="938.1" r="177.85"/><circle cx="879.5" cy="938.1" r="199.92"/><path d="M1013.2 938.1L1101.5 938.1"/><path d="M1003.02 886.94L1084.6 853.14"/><path d="M974.04 843.56L1036.48 781.12"/><path d="M930.66 814.58L964.46 733"/><path d="M879.5 804.4L879.5 716.1"/><path d="M828.34 814.58L794.54 733"/><path d="M784.96 843.56L722.52 781.12"/><path d="M755.98 886.94L674.4 853.14"/><path d="M745.8 938.1L657.5 938.1"/><path d="M755.98 989.26L674.4 1023.06"/><path d="M784.96 1032.64L722.52 1095.08"/><path d="M828.34 1061.62L794.54 1143.2"/><path d="M879.5 1071.8L879.5 1160.1"/><path d="M930.66 1061.62L964.46 1143.2"/><path d="M974.04 1032.64L1036.48 1095.08"/><path d="M1003.02 989.26L1084.6 1023.06"/></g><circle cx="879.5" cy="938.1" r="222" fill="none" stroke="#999" stroke-width="1.2"/></g></g><g clip-path="url(#sm4_0)"><rect x="650" y="1020.1" width="462" height="9.4" fill="#fff"/><g transform="translate(0 1020.5) scale(1 11.25) translate(0 -1019.7)"><g transform="translate(0 -9.5)"><path d="M1013.2 938.1L1073.24 938.1A193.74 193.74 0 0 0 1058.5 863.96L1003.02 886.94A133.7 133.7 0 0 1 1013.2 938.1Z" fill="#b4d99a" stroke="#62bb46" stroke-width="4.6" stroke-linejoin="miter"/><path d="M1003.02 886.94L1014.77 882.07A146.42 146.42 0 0 0 983.03 834.57L974.04 843.56A133.7 133.7 0 0 1 1003.02 886.94Z" fill="#cce3a0" stroke="#8dc63f" stroke-width="4.6" stroke-linejoin="miter"/><path d="M974.04 843.56L974.04 843.56A133.7 133.7 0 0 0 930.66 814.58L930.66 814.58A133.7 133.7 0 0 1 974.04 843.56Z" fill="#eef09e" stroke="#d7df23" stroke-width="4.6" stroke-linejoin="miter"/><path d="M930.66 814.58L944.11 782.11A168.84 168.84 0 0 0 879.5 769.26L879.5 804.4A133.7 133.7 0 0 1 930.66 814.58Z" fill="#fedb95" stroke="#fdb813" stroke-width="4.6" stroke-linejoin="miter"/><path d="M879.5 804.4L879.5 787.62A150.48 150.48 0 0 0 821.91 799.08L828.34 814.58A133.7 133.7 0 0 1 879.5 804.4Z" fill="#f9b48f" stroke="#f26522" stroke-width="4.6" stroke-linejoin="miter"/><path d="M828.34 814.58L826.98 811.31A137.23 137.23 0 0 0 782.46 841.06L784.96 843.56A133.7 133.7 0 0 1 828.34 814.58Z" fill="#f6908f" stroke="#ed1c24" stroke-width="4.6" stroke-linejoin="miter"/><path d="M784.96 843.56L784.96 843.56A133.7 133.7 0 0 0 755.98 886.94L755.98 886.94A133.7 133.7 0 0 1 784.96 843.56Z" fill="#f6a0a8" stroke="#ed145b" stroke-width="4.6" stroke-linejoin="miter"/><path d="M755.98 886.94L724.16 873.76A168.14 168.14 0 0 0 711.36 938.1L745.8 938.1A133.7 133.7 0 0 1 755.98 886.94Z" fill="#eea2cb" stroke="#dd3d96" stroke-width="4.6" stroke-linejoin="miter"/><path d="M745.8 938.1L742.97 938.1A136.53 136.53 0 0 0 753.37 990.35L755.98 989.26A133.7 133.7 0 0 1 745.8 938.1Z" fill="#cba3cf" stroke="#a54da0" stroke-width="4.6" stroke-linejoin="miter"/><path d="M755.98 989.26L755.98 989.26A133.7 133.7 0 0 0 784.96 1032.64L784.96 1032.64A133.7 133.7 0 0 1 755.98 989.26Z" fill="#b3a0cc" stroke="#6b439b" stroke-width="4.6" stroke-linejoin="miter"/><path d="M784.96 1032.64L784.96 1032.64A133.7 133.7 0 0 0 828.34 1061.62L828.34 1061.62A133.7 133.7 0 0 1 784.96 1032.64Z" fill="#9da3ce" stroke="#3b479d" stroke-width="4.6" stroke-linejoin="miter"/><path d="M828.34 1061.62L828.34 1061.62A133.7 133.7 0 0 0 879.5 1071.8L879.5 1071.8A133.7 133.7 0 0 1 828.34 1061.62Z" fill="#97a7d1" stroke="#2e4fa2" stroke-width="4.6" stroke-linejoin="miter"/><path d="M879.5 1071.8L879.5 1074.45A136.35 136.35 0 0 0 931.68 1064.07L930.66 1061.62A133.7 133.7 0 0 1 879.5 1071.8Z" fill="#9ec7ee" stroke="#3d8fdc" stroke-width="4.6" stroke-linejoin="miter"/><path d="M930.66 1061.62L930.66 1061.62A133.7 133.7 0 0 0 974.04 1032.64L974.04 1032.64A133.7 133.7 0 0 1 930.66 1061.62Z" fill="#b6e7fb" stroke="#6dcff6" stroke-width="4.6" stroke-linejoin="miter"/><path d="M974.04 1032.64L974.04 1032.64A133.7 133.7 0 0 0 1003.02 989.26L1003.02 989.26A133.7 133.7 0 0 1 974.04 1032.64Z" fill="#b7e7cb" stroke="#6fcf97" stroke-width="4.6" stroke-linejoin="miter"/><path d="M1003.02 989.26L1003.02 989.26A133.7 133.7 0 0 0 1013.2 938.1L1013.2 938.1A133.7 133.7 0 0 1 1003.02 989.26Z" fill="#b5de9f" stroke="#6abd45" stroke-width="4.6" stroke-linejoin="miter"/><g fill="none" stroke="#cacace" stroke-width="1.35"><circle cx="879.5" cy="938.1" r="133.7"/><circle cx="879.5" cy="938.1" r="155.77"/><circle cx="879.5" cy="938.1" r="177.85"/><circle cx="879.5" cy="938.1" r="199.92"/><path d="M1013.2 938.1L1101.5 938.1"/><path d="M1003.02 886.94L1084.6 853.14"/><path d="M974.04 843.56L1036.48 781.12"/><path d="M930.66 814.58L964.46 733"/><path d="M879.5 804.4L879.5 716.1"/><path d="M828.34 814.58L794.54 733"/><path d="M784.96 843.56L722.52 781.12"/><path d="M755.98 886.94L674.4 853.14"/><path d="M745.8 938.1L657.5 938.1"/><path d="M755.98 989.26L674.4 1023.06"/><path d="M784.96 1032.64L722.52 1095.08"/><path d="M828.34 1061.62L794.54 1143.2"/><path d="M879.5 1071.8L879.5 1160.1"/><path d="M930.66 1061.62L964.46 1143.2"/><path d="M974.04 1032.64L1036.48 1095.08"/><path d="M1003.02 989.26L1084.6 1023.06"/></g><circle cx="879.5" cy="938.1" r="222" fill="none" stroke="#999" stroke-width="1.2"/></g></g></g><g clip-path="url(#cx4)"><text class="wd" transform="translate(880 937.7) rotate(-11.25)" x="126.5" y="-0.7">happy</text><text class="wd" transform="translate(880 937.7) rotate(-33.75)" x="126.5" y="-0.7">elated</text><text class="wd" transform="translate(880 937.7) rotate(-56.25)" x="126.5" y="-0.7">excited</text><text class="wd" transform="translate(880 937.7) rotate(-78.75)" x="126.5" y="-0.7">alert</text><text class="wd" transform="translate(880 937.7) rotate(-101.25)" x="126.5" y="-0.7">tense</text><text class="wd" transform="translate(880 937.7) rotate(-123.75)" x="126.5" y="-0.7">nervous</text><text class="wd" transform="translate(880 937.7) rotate(-146.25)" x="126.5" y="-0.7">stressed</text><text class="wd" transform="translate(880 937.7) rotate(-168.75)" x="126.5" y="-0.7">upset</text><text class="wd" transform="translate(880 937.7) rotate(-191.25)" x="126.5" y="-0.7">sad</text><text class="wd" transform="translate(880 937.7) rotate(-213.75)" x="126.5" y="-0.7">depressed</text><text class="wd" transform="translate(880 937.7) rotate(-236.25)" x="126.5" y="-0.7">lethargic</text><text class="wd" transform="translate(880 937.7) rotate(-258.75)" x="126.5" y="-0.7">fatigued</text><text class="wd" transform="translate(880 937.7) rotate(-281.25)" x="126.5" y="-0.7">calm</text><text class="wd" transform="translate(880 937.7) rotate(-303.75)" x="126.5" y="-0.7">relaxed</text><text class="wd" transform="translate(880 937.7) rotate(-326.25)" x="126.5" y="-0.7">serene</text><text class="wd" transform="translate(880 937.7) rotate(-348.75)" x="126.5" y="-0.7">contented</text><text class="rt" transform="translate(974.04 843.56) rotate(45)" x="0" y="0">0%</text><text class="rt" transform="translate(989.65 827.95) rotate(45)" x="0" y="0">12%</text><text class="rt" transform="translate(1005.26 812.34) rotate(45)" x="0" y="0">25%</text><text class="rt" transform="translate(1020.87 796.73) rotate(45)" x="0" y="0">38%</text><text class="rt" transform="translate(1036.48 781.12) rotate(45)" x="0" y="0">50%</text></g><g clip-path="url(#ct4_0)"><g transform="translate(0 -9.5)"><text class="wd" transform="translate(880 937.7) rotate(-11.25)" x="126.5" y="-0.7">happy</text><text class="wd" transform="translate(880 937.7) rotate(-33.75)" x="126.5" y="-0.7">elated</text><text class="wd" transform="translate(880 937.7) rotate(-56.25)" x="126.5" y="-0.7">excited</text><text class="wd" transform="translate(880 937.7) rotate(-78.75)" x="126.5" y="-0.7">alert</text><text class="wd" transform="translate(880 937.7) rotate(-281.25)" x="126.5" y="-0.7">calm</text><text class="wd" transform="translate(880 937.7) rotate(-303.75)" x="126.5" y="-0.7">relaxed</text><text class="wd" transform="translate(880 937.7) rotate(-326.25)" x="126.5" y="-0.7">serene</text><text class="wd" transform="translate(880 937.7) rotate(-348.75)" x="126.5" y="-0.7">contented</text><text class="rt" transform="translate(974.04 843.56) rotate(45)" x="0" y="0">0%</text><text class="rt" transform="translate(989.65 827.95) rotate(45)" x="0" y="0">12%</text><text class="rt" transform="translate(1005.26 812.34) rotate(45)" x="0" y="0">25%</text><text class="rt" transform="translate(1020.87 796.73) rotate(45)" x="0" y="0">38%</text><text class="rt" transform="translate(1036.48 781.12) rotate(45)" x="0" y="0">50%</text></g></g><text class="ti" x="880.6" y="651.4">PoV_5</text><text class="su" x="880" y="682.2">(Archway Passage)</text><text class="th" x="1116.8" y="944.1">0</text><text class="th" x="1108.5" y="846.6"><tspan class="pi">π</tspan>/8</text><text class="th" x="1058.4" y="770.6"><tspan class="pi">π</tspan>/4</text><text class="th" x="988.7" y="719.8">3<tspan class="pi">π</tspan>/8</text><text class="th" x="880.1" y="702.3"><tspan class="pi">π</tspan>/2</text><text class="th" x="770.2" y="719.9">5<tspan class="pi">π</tspan>/8</text><text class="th" x="695.2" y="770.6">3<tspan class="pi">π</tspan>/4</text><text class="th" x="644.7" y="846.6">7<tspan class="pi">π</tspan>/8</text><text class="th" x="643.2" y="944.1"><tspan class="pi">π</tspan></text><svg x="0" y="981.5" width="1772" height="40" viewBox="0 981.5 1772 40" overflow="hidden"><text class="th" x="644.6" y="1023.2">9<tspan class="pi">π</tspan>/8</text></svg><svg x="0" y="1021.5" width="1772" height="40" viewBox="0 1021.5 1772 40" overflow="hidden"><text class="th" x="644.6" y="1032.7">9<tspan class="pi">π</tspan>/8</text></svg><text class="th" x="695.2" y="1118.3">5<tspan class="pi">π</tspan>/4</text><text class="th" x="766.2" y="1168.9">11<tspan class="pi">π</tspan>/8</text><text class="th" x="879.5" y="1186.7">3<tspan class="pi">π</tspan>/2</text><text class="th" x="995.4" y="1168.9">13<tspan class="pi">π</tspan>/8</text><text class="th" x="1064.1" y="1118.3">7<tspan class="pi">π</tspan>/4</text><svg x="0" y="981.5" width="1772" height="40" viewBox="0 981.5 1772 40" overflow="hidden"><text class="th" x="1120.5" y="1023.4">15<tspan class="pi">π</tspan>/8</text></svg><svg x="0" y="1021.5" width="1772" height="40" viewBox="0 1021.5 1772 40" overflow="hidden"><text class="th" x="1120.5" y="1032.9">15<tspan class="pi">π</tspan>/8</text></svg></g>
<clipPath id="cs5_0"><polygon points="1240,843 1240,1020.5 1402,1020.5 1402,843"/></clipPath><clipPath id="sm5_0"><rect x="1240" y="1020.1" width="162" height="9.4"/></clipPath><clipPath id="cs5_1"><polygon points="1596,850 1596,870 1612,890 1622,910 1627,932.8 1730,932.8 1730,850"/></clipPath><clipPath id="sm5_1"><rect x="1627" y="932.4" width="103" height="12.6"/></clipPath><g><path d="M1633.95 938.1L1700.7 938.1A200.45 200.45 0 0 0 1685.45 861.39L1623.77 886.94A133.7 133.7 0 0 1 1633.95 938.1Z" fill="#b4d99a" stroke="#62bb46" stroke-width="4.6" stroke-linejoin="miter"/><path d="M1623.77 886.94L1640.58 879.97A151.89 151.89 0 0 0 1607.65 830.7L1594.79 843.56A133.7 133.7 0 0 1 1623.77 886.94Z" fill="#cce3a0" stroke="#8dc63f" stroke-width="4.6" stroke-linejoin="miter"/><path d="M1594.79 843.56L1606.78 831.57A150.65 150.65 0 0 0 1557.9 798.91L1551.41 814.58A133.7 133.7 0 0 1 1594.79 843.56Z" fill="#eef09e" stroke="#d7df23" stroke-width="4.6" stroke-linejoin="miter"/><path d="M1551.41 814.58L1564.59 782.76A168.14 168.14 0 0 0 1500.25 769.96L1500.25 804.4A133.7 133.7 0 0 1 1551.41 814.58Z" fill="#fedb95" stroke="#fdb813" stroke-width="4.6" stroke-linejoin="miter"/><path d="M1500.25 804.4L1500.25 797.87A140.23 140.23 0 0 0 1446.58 808.54L1449.09 814.58A133.7 133.7 0 0 1 1500.25 804.4Z" fill="#f9b48f" stroke="#f26522" stroke-width="4.6" stroke-linejoin="miter"/><path d="M1449.09 814.58L1447.73 811.31A137.23 137.23 0 0 0 1403.21 841.06L1405.71 843.56A133.7 133.7 0 0 1 1449.09 814.58Z" fill="#f6908f" stroke="#ed1c24" stroke-width="4.6" stroke-linejoin="miter"/><path d="M1405.71 843.56L1402.46 840.31A138.29 138.29 0 0 0 1372.49 885.18L1376.73 886.94A133.7 133.7 0 0 1 1405.71 843.56Z" fill="#f6a0a8" stroke="#ed145b" stroke-width="4.6" stroke-linejoin="miter"/><path d="M1376.73 886.94L1364.82 882A146.59 146.59 0 0 0 1353.66 938.1L1366.55 938.1A133.7 133.7 0 0 1 1376.73 886.94Z" fill="#eea2cb" stroke="#dd3d96" stroke-width="4.6" stroke-linejoin="miter"/><path d="M1366.55 938.1L1360.9 938.1A139.35 139.35 0 0 0 1371.51 991.43L1376.73 989.26A133.7 133.7 0 0 1 1366.55 938.1Z" fill="#cba3cf" stroke="#a54da0" stroke-width="4.6" stroke-linejoin="miter"/><path d="M1376.73 989.26L1376.73 989.26A133.7 133.7 0 0 0 1405.71 1032.64L1405.71 1032.64A133.7 133.7 0 0 1 1376.73 989.26Z" fill="#b3a0cc" stroke="#6b439b" stroke-width="4.6" stroke-linejoin="miter"/><path d="M1405.71 1032.64L1405.71 1032.64A133.7 133.7 0 0 0 1449.09 1061.62L1449.09 1061.62A133.7 133.7 0 0 1 1405.71 1032.64Z" fill="#9da3ce" stroke="#3b479d" stroke-width="4.6" stroke-linejoin="miter"/><path d="M1449.09 1061.62L1449.09 1061.62A133.7 133.7 0 0 0 1500.25 1071.8L1500.25 1071.8A133.7 133.7 0 0 1 1449.09 1061.62Z" fill="#97a7d1" stroke="#2e4fa2" stroke-width="4.6" stroke-linejoin="miter"/><path d="M1500.25 1071.8L1500.25 1074.45A136.35 136.35 0 0 0 1552.43 1064.07L1551.41 1061.62A133.7 133.7 0 0 1 1500.25 1071.8Z" fill="#9ec7ee" stroke="#3d8fdc" stroke-width="4.6" stroke-linejoin="miter"/><path d="M1551.41 1061.62L1551.41 1061.62A133.7 133.7 0 0 0 1594.79 1032.64L1594.79 1032.64A133.7 133.7 0 0 1 1551.41 1061.62Z" fill="#b6e7fb" stroke="#6dcff6" stroke-width="4.6" stroke-linejoin="miter"/><path d="M1594.79 1032.64L1594.79 1032.64A133.7 133.7 0 0 0 1623.77 989.26L1623.77 989.26A133.7 133.7 0 0 1 1594.79 1032.64Z" fill="#b7e7cb" stroke="#6fcf97" stroke-width="4.6" stroke-linejoin="miter"/><path d="M1623.77 989.26L1623.77 989.26A133.7 133.7 0 0 0 1633.95 938.1L1633.95 938.1A133.7 133.7 0 0 1 1623.77 989.26Z" fill="#b5de9f" stroke="#6abd45" stroke-width="4.6" stroke-linejoin="miter"/><g fill="none" stroke="#b5b5b9" stroke-width="1.35"><circle cx="1500.25" cy="938.1" r="133.7"/><circle cx="1500.25" cy="938.1" r="155.77"/><circle cx="1500.25" cy="938.1" r="177.85"/><circle cx="1500.25" cy="938.1" r="199.92"/><path d="M1633.95 938.1L1722.25 938.1"/><path d="M1623.77 886.94L1705.35 853.14"/><path d="M1594.79 843.56L1657.23 781.12"/><path d="M1551.41 814.58L1585.21 733"/><path d="M1500.25 804.4L1500.25 716.1"/><path d="M1449.09 814.58L1415.29 733"/><path d="M1405.71 843.56L1343.27 781.12"/><path d="M1376.73 886.94L1295.15 853.14"/><path d="M1366.55 938.1L1278.25 938.1"/><path d="M1376.73 989.26L1295.15 1023.06"/><path d="M1405.71 1032.64L1343.27 1095.08"/><path d="M1449.09 1061.62L1415.29 1143.2"/><path d="M1500.25 1071.8L1500.25 1160.1"/><path d="M1551.41 1061.62L1585.21 1143.2"/><path d="M1594.79 1032.64L1657.23 1095.08"/><path d="M1623.77 989.26L1705.35 1023.06"/></g><circle cx="1500.25" cy="938.1" r="222" fill="none" stroke="#7d7d7d" stroke-width="1.2"/><g clip-path="url(#cs5_0)"><g fill="#fff"><polygon points="1240,843 1240,1020.5 1402,1020.5 1402,843"/></g><g transform="translate(0 -9.5)" filter="url(#bl)"><path d="M1633.95 938.1L1700.7 938.1A200.45 200.45 0 0 0 1685.45 861.39L1623.77 886.94A133.7 133.7 0 0 1 1633.95 938.1Z" fill="#b4d99a" stroke="#62bb46" stroke-width="4.6" stroke-linejoin="miter"/><path d="M1623.77 886.94L1640.58 879.97A151.89 151.89 0 0 0 1607.65 830.7L1594.79 843.56A133.7 133.7 0 0 1 1623.77 886.94Z" fill="#cce3a0" stroke="#8dc63f" stroke-width="4.6" stroke-linejoin="miter"/><path d="M1594.79 843.56L1606.78 831.57A150.65 150.65 0 0 0 1557.9 798.91L1551.41 814.58A133.7 133.7 0 0 1 1594.79 843.56Z" fill="#eef09e" stroke="#d7df23" stroke-width="4.6" stroke-linejoin="miter"/><path d="M1551.41 814.58L1564.59 782.76A168.14 168.14 0 0 0 1500.25 769.96L1500.25 804.4A133.7 133.7 0 0 1 1551.41 814.58Z" fill="#fedb95" stroke="#fdb813" stroke-width="4.6" stroke-linejoin="miter"/><path d="M1500.25 804.4L1500.25 797.87A140.23 140.23 0 0 0 1446.58 808.54L1449.09 814.58A133.7 133.7 0 0 1 1500.25 804.4Z" fill="#f9b48f" stroke="#f26522" stroke-width="4.6" stroke-linejoin="miter"/><path d="M1449.09 814.58L1447.73 811.31A137.23 137.23 0 0 0 1403.21 841.06L1405.71 843.56A133.7 133.7 0 0 1 1449.09 814.58Z" fill="#f6908f" stroke="#ed1c24" stroke-width="4.6" stroke-linejoin="miter"/><path d="M1405.71 843.56L1402.46 840.31A138.29 138.29 0 0 0 1372.49 885.18L1376.73 886.94A133.7 133.7 0 0 1 1405.71 843.56Z" fill="#f6a0a8" stroke="#ed145b" stroke-width="4.6" stroke-linejoin="miter"/><path d="M1376.73 886.94L1364.82 882A146.59 146.59 0 0 0 1353.66 938.1L1366.55 938.1A133.7 133.7 0 0 1 1376.73 886.94Z" fill="#eea2cb" stroke="#dd3d96" stroke-width="4.6" stroke-linejoin="miter"/><path d="M1366.55 938.1L1360.9 938.1A139.35 139.35 0 0 0 1371.51 991.43L1376.73 989.26A133.7 133.7 0 0 1 1366.55 938.1Z" fill="#cba3cf" stroke="#a54da0" stroke-width="4.6" stroke-linejoin="miter"/><path d="M1376.73 989.26L1376.73 989.26A133.7 133.7 0 0 0 1405.71 1032.64L1405.71 1032.64A133.7 133.7 0 0 1 1376.73 989.26Z" fill="#b3a0cc" stroke="#6b439b" stroke-width="4.6" stroke-linejoin="miter"/><path d="M1405.71 1032.64L1405.71 1032.64A133.7 133.7 0 0 0 1449.09 1061.62L1449.09 1061.62A133.7 133.7 0 0 1 1405.71 1032.64Z" fill="#9da3ce" stroke="#3b479d" stroke-width="4.6" stroke-linejoin="miter"/><path d="M1449.09 1061.62L1449.09 1061.62A133.7 133.7 0 0 0 1500.25 1071.8L1500.25 1071.8A133.7 133.7 0 0 1 1449.09 1061.62Z" fill="#97a7d1" stroke="#2e4fa2" stroke-width="4.6" stroke-linejoin="miter"/><path d="M1500.25 1071.8L1500.25 1074.45A136.35 136.35 0 0 0 1552.43 1064.07L1551.41 1061.62A133.7 133.7 0 0 1 1500.25 1071.8Z" fill="#9ec7ee" stroke="#3d8fdc" stroke-width="4.6" stroke-linejoin="miter"/><path d="M1551.41 1061.62L1551.41 1061.62A133.7 133.7 0 0 0 1594.79 1032.64L1594.79 1032.64A133.7 133.7 0 0 1 1551.41 1061.62Z" fill="#b6e7fb" stroke="#6dcff6" stroke-width="4.6" stroke-linejoin="miter"/><path d="M1594.79 1032.64L1594.79 1032.64A133.7 133.7 0 0 0 1623.77 989.26L1623.77 989.26A133.7 133.7 0 0 1 1594.79 1032.64Z" fill="#b7e7cb" stroke="#6fcf97" stroke-width="4.6" stroke-linejoin="miter"/><path d="M1623.77 989.26L1623.77 989.26A133.7 133.7 0 0 0 1633.95 938.1L1633.95 938.1A133.7 133.7 0 0 1 1623.77 989.26Z" fill="#b5de9f" stroke="#6abd45" stroke-width="4.6" stroke-linejoin="miter"/><g fill="none" stroke="#cacace" stroke-width="1.35"><circle cx="1500.25" cy="938.1" r="133.7"/><circle cx="1500.25" cy="938.1" r="155.77"/><circle cx="1500.25" cy="938.1" r="177.85"/><circle cx="1500.25" cy="938.1" r="199.92"/><path d="M1633.95 938.1L1722.25 938.1"/><path d="M1623.77 886.94L1705.35 853.14"/><path d="M1594.79 843.56L1657.23 781.12"/><path d="M1551.41 814.58L1585.21 733"/><path d="M1500.25 804.4L1500.25 716.1"/><path d="M1449.09 814.58L1415.29 733"/><path d="M1405.71 843.56L1343.27 781.12"/><path d="M1376.73 886.94L1295.15 853.14"/><path d="M1366.55 938.1L1278.25 938.1"/><path d="M1376.73 989.26L1295.15 1023.06"/><path d="M1405.71 1032.64L1343.27 1095.08"/><path d="M1449.09 1061.62L1415.29 1143.2"/><path d="M1500.25 1071.8L1500.25 1160.1"/><path d="M1551.41 1061.62L1585.21 1143.2"/><path d="M1594.79 1032.64L1657.23 1095.08"/><path d="M1623.77 989.26L1705.35 1023.06"/></g><circle cx="1500.25" cy="938.1" r="222" fill="none" stroke="#999" stroke-width="1.2"/></g></g><g clip-path="url(#sm5_0)"><rect x="1240" y="1020.1" width="162" height="9.4" fill="#fff"/><g transform="translate(0 1020.5) scale(1 11.25) translate(0 -1019.7)"><g transform="translate(0 -9.5)"><path d="M1633.95 938.1L1700.7 938.1A200.45 200.45 0 0 0 1685.45 861.39L1623.77 886.94A133.7 133.7 0 0 1 1633.95 938.1Z" fill="#b4d99a" stroke="#62bb46" stroke-width="4.6" stroke-linejoin="miter"/><path d="M1623.77 886.94L1640.58 879.97A151.89 151.89 0 0 0 1607.65 830.7L1594.79 843.56A133.7 133.7 0 0 1 1623.77 886.94Z" fill="#cce3a0" stroke="#8dc63f" stroke-width="4.6" stroke-linejoin="miter"/><path d="M1594.79 843.56L1606.78 831.57A150.65 150.65 0 0 0 1557.9 798.91L1551.41 814.58A133.7 133.7 0 0 1 1594.79 843.56Z" fill="#eef09e" stroke="#d7df23" stroke-width="4.6" stroke-linejoin="miter"/><path d="M1551.41 814.58L1564.59 782.76A168.14 168.14 0 0 0 1500.25 769.96L1500.25 804.4A133.7 133.7 0 0 1 1551.41 814.58Z" fill="#fedb95" stroke="#fdb813" stroke-width="4.6" stroke-linejoin="miter"/><path d="M1500.25 804.4L1500.25 797.87A140.23 140.23 0 0 0 1446.58 808.54L1449.09 814.58A133.7 133.7 0 0 1 1500.25 804.4Z" fill="#f9b48f" stroke="#f26522" stroke-width="4.6" stroke-linejoin="miter"/><path d="M1449.09 814.58L1447.73 811.31A137.23 137.23 0 0 0 1403.21 841.06L1405.71 843.56A133.7 133.7 0 0 1 1449.09 814.58Z" fill="#f6908f" stroke="#ed1c24" stroke-width="4.6" stroke-linejoin="miter"/><path d="M1405.71 843.56L1402.46 840.31A138.29 138.29 0 0 0 1372.49 885.18L1376.73 886.94A133.7 133.7 0 0 1 1405.71 843.56Z" fill="#f6a0a8" stroke="#ed145b" stroke-width="4.6" stroke-linejoin="miter"/><path d="M1376.73 886.94L1364.82 882A146.59 146.59 0 0 0 1353.66 938.1L1366.55 938.1A133.7 133.7 0 0 1 1376.73 886.94Z" fill="#eea2cb" stroke="#dd3d96" stroke-width="4.6" stroke-linejoin="miter"/><path d="M1366.55 938.1L1360.9 938.1A139.35 139.35 0 0 0 1371.51 991.43L1376.73 989.26A133.7 133.7 0 0 1 1366.55 938.1Z" fill="#cba3cf" stroke="#a54da0" stroke-width="4.6" stroke-linejoin="miter"/><path d="M1376.73 989.26L1376.73 989.26A133.7 133.7 0 0 0 1405.71 1032.64L1405.71 1032.64A133.7 133.7 0 0 1 1376.73 989.26Z" fill="#b3a0cc" stroke="#6b439b" stroke-width="4.6" stroke-linejoin="miter"/><path d="M1405.71 1032.64L1405.71 1032.64A133.7 133.7 0 0 0 1449.09 1061.62L1449.09 1061.62A133.7 133.7 0 0 1 1405.71 1032.64Z" fill="#9da3ce" stroke="#3b479d" stroke-width="4.6" stroke-linejoin="miter"/><path d="M1449.09 1061.62L1449.09 1061.62A133.7 133.7 0 0 0 1500.25 1071.8L1500.25 1071.8A133.7 133.7 0 0 1 1449.09 1061.62Z" fill="#97a7d1" stroke="#2e4fa2" stroke-width="4.6" stroke-linejoin="miter"/><path d="M1500.25 1071.8L1500.25 1074.45A136.35 136.35 0 0 0 1552.43 1064.07L1551.41 1061.62A133.7 133.7 0 0 1 1500.25 1071.8Z" fill="#9ec7ee" stroke="#3d8fdc" stroke-width="4.6" stroke-linejoin="miter"/><path d="M1551.41 1061.62L1551.41 1061.62A133.7 133.7 0 0 0 1594.79 1032.64L1594.79 1032.64A133.7 133.7 0 0 1 1551.41 1061.62Z" fill="#b6e7fb" stroke="#6dcff6" stroke-width="4.6" stroke-linejoin="miter"/><path d="M1594.79 1032.64L1594.79 1032.64A133.7 133.7 0 0 0 1623.77 989.26L1623.77 989.26A133.7 133.7 0 0 1 1594.79 1032.64Z" fill="#b7e7cb" stroke="#6fcf97" stroke-width="4.6" stroke-linejoin="miter"/><path d="M1623.77 989.26L1623.77 989.26A133.7 133.7 0 0 0 1633.95 938.1L1633.95 938.1A133.7 133.7 0 0 1 1623.77 989.26Z" fill="#b5de9f" stroke="#6abd45" stroke-width="4.6" stroke-linejoin="miter"/><g fill="none" stroke="#cacace" stroke-width="1.35"><circle cx="1500.25" cy="938.1" r="133.7"/><circle cx="1500.25" cy="938.1" r="155.77"/><circle cx="1500.25" cy="938.1" r="177.85"/><circle cx="1500.25" cy="938.1" r="199.92"/><path d="M1633.95 938.1L1722.25 938.1"/><path d="M1623.77 886.94L1705.35 853.14"/><path d="M1594.79 843.56L1657.23 781.12"/><path d="M1551.41 814.58L1585.21 733"/><path d="M1500.25 804.4L1500.25 716.1"/><path d="M1449.09 814.58L1415.29 733"/><path d="M1405.71 843.56L1343.27 781.12"/><path d="M1376.73 886.94L1295.15 853.14"/><path d="M1366.55 938.1L1278.25 938.1"/><path d="M1376.73 989.26L1295.15 1023.06"/><path d="M1405.71 1032.64L1343.27 1095.08"/><path d="M1449.09 1061.62L1415.29 1143.2"/><path d="M1500.25 1071.8L1500.25 1160.1"/><path d="M1551.41 1061.62L1585.21 1143.2"/><path d="M1594.79 1032.64L1657.23 1095.08"/><path d="M1623.77 989.26L1705.35 1023.06"/></g><circle cx="1500.25" cy="938.1" r="222" fill="none" stroke="#999" stroke-width="1.2"/></g></g></g><g clip-path="url(#cs5_1)"><g fill="#fff"><polygon points="1596,850 1596,870 1612,890 1622,910 1627,932.8 1730,932.8 1730,850"/></g><g transform="translate(0 850) scale(1 0.902) translate(0 -850)" filter="url(#bl)"><path d="M1633.95 938.1L1700.7 938.1A200.45 200.45 0 0 0 1685.45 861.39L1623.77 886.94A133.7 133.7 0 0 1 1633.95 938.1Z" fill="#b4d99a" stroke="#62bb46" stroke-width="4.6" stroke-linejoin="miter"/><path d="M1623.77 886.94L1640.58 879.97A151.89 151.89 0 0 0 1607.65 830.7L1594.79 843.56A133.7 133.7 0 0 1 1623.77 886.94Z" fill="#cce3a0" stroke="#8dc63f" stroke-width="4.6" stroke-linejoin="miter"/><path d="M1594.79 843.56L1606.78 831.57A150.65 150.65 0 0 0 1557.9 798.91L1551.41 814.58A133.7 133.7 0 0 1 1594.79 843.56Z" fill="#eef09e" stroke="#d7df23" stroke-width="4.6" stroke-linejoin="miter"/><path d="M1551.41 814.58L1564.59 782.76A168.14 168.14 0 0 0 1500.25 769.96L1500.25 804.4A133.7 133.7 0 0 1 1551.41 814.58Z" fill="#fedb95" stroke="#fdb813" stroke-width="4.6" stroke-linejoin="miter"/><path d="M1500.25 804.4L1500.25 797.87A140.23 140.23 0 0 0 1446.58 808.54L1449.09 814.58A133.7 133.7 0 0 1 1500.25 804.4Z" fill="#f9b48f" stroke="#f26522" stroke-width="4.6" stroke-linejoin="miter"/><path d="M1449.09 814.58L1447.73 811.31A137.23 137.23 0 0 0 1403.21 841.06L1405.71 843.56A133.7 133.7 0 0 1 1449.09 814.58Z" fill="#f6908f" stroke="#ed1c24" stroke-width="4.6" stroke-linejoin="miter"/><path d="M1405.71 843.56L1402.46 840.31A138.29 138.29 0 0 0 1372.49 885.18L1376.73 886.94A133.7 133.7 0 0 1 1405.71 843.56Z" fill="#f6a0a8" stroke="#ed145b" stroke-width="4.6" stroke-linejoin="miter"/><path d="M1376.73 886.94L1364.82 882A146.59 146.59 0 0 0 1353.66 938.1L1366.55 938.1A133.7 133.7 0 0 1 1376.73 886.94Z" fill="#eea2cb" stroke="#dd3d96" stroke-width="4.6" stroke-linejoin="miter"/><path d="M1366.55 938.1L1360.9 938.1A139.35 139.35 0 0 0 1371.51 991.43L1376.73 989.26A133.7 133.7 0 0 1 1366.55 938.1Z" fill="#cba3cf" stroke="#a54da0" stroke-width="4.6" stroke-linejoin="miter"/><path d="M1376.73 989.26L1376.73 989.26A133.7 133.7 0 0 0 1405.71 1032.64L1405.71 1032.64A133.7 133.7 0 0 1 1376.73 989.26Z" fill="#b3a0cc" stroke="#6b439b" stroke-width="4.6" stroke-linejoin="miter"/><path d="M1405.71 1032.64L1405.71 1032.64A133.7 133.7 0 0 0 1449.09 1061.62L1449.09 1061.62A133.7 133.7 0 0 1 1405.71 1032.64Z" fill="#9da3ce" stroke="#3b479d" stroke-width="4.6" stroke-linejoin="miter"/><path d="M1449.09 1061.62L1449.09 1061.62A133.7 133.7 0 0 0 1500.25 1071.8L1500.25 1071.8A133.7 133.7 0 0 1 1449.09 1061.62Z" fill="#97a7d1" stroke="#2e4fa2" stroke-width="4.6" stroke-linejoin="miter"/><path d="M1500.25 1071.8L1500.25 1074.45A136.35 136.35 0 0 0 1552.43 1064.07L1551.41 1061.62A133.7 133.7 0 0 1 1500.25 1071.8Z" fill="#9ec7ee" stroke="#3d8fdc" stroke-width="4.6" stroke-linejoin="miter"/><path d="M1551.41 1061.62L1551.41 1061.62A133.7 133.7 0 0 0 1594.79 1032.64L1594.79 1032.64A133.7 133.7 0 0 1 1551.41 1061.62Z" fill="#b6e7fb" stroke="#6dcff6" stroke-width="4.6" stroke-linejoin="miter"/><path d="M1594.79 1032.64L1594.79 1032.64A133.7 133.7 0 0 0 1623.77 989.26L1623.77 989.26A133.7 133.7 0 0 1 1594.79 1032.64Z" fill="#b7e7cb" stroke="#6fcf97" stroke-width="4.6" stroke-linejoin="miter"/><path d="M1623.77 989.26L1623.77 989.26A133.7 133.7 0 0 0 1633.95 938.1L1633.95 938.1A133.7 133.7 0 0 1 1623.77 989.26Z" fill="#b5de9f" stroke="#6abd45" stroke-width="4.6" stroke-linejoin="miter"/><g fill="none" stroke="#cacace" stroke-width="1.35"><circle cx="1500.25" cy="938.1" r="133.7"/><circle cx="1500.25" cy="938.1" r="155.77"/><circle cx="1500.25" cy="938.1" r="177.85"/><circle cx="1500.25" cy="938.1" r="199.92"/><path d="M1633.95 938.1L1722.25 938.1"/><path d="M1623.77 886.94L1705.35 853.14"/><path d="M1594.79 843.56L1657.23 781.12"/><path d="M1551.41 814.58L1585.21 733"/><path d="M1500.25 804.4L1500.25 716.1"/><path d="M1449.09 814.58L1415.29 733"/><path d="M1405.71 843.56L1343.27 781.12"/><path d="M1376.73 886.94L1295.15 853.14"/><path d="M1366.55 938.1L1278.25 938.1"/><path d="M1376.73 989.26L1295.15 1023.06"/><path d="M1405.71 1032.64L1343.27 1095.08"/><path d="M1449.09 1061.62L1415.29 1143.2"/><path d="M1500.25 1071.8L1500.25 1160.1"/><path d="M1551.41 1061.62L1585.21 1143.2"/><path d="M1594.79 1032.64L1657.23 1095.08"/><path d="M1623.77 989.26L1705.35 1023.06"/></g><circle cx="1500.25" cy="938.1" r="222" fill="none" stroke="#999" stroke-width="1.2"/></g></g><g clip-path="url(#sm5_1)"><rect x="1627" y="932.4" width="103" height="12.6" fill="#fff"/><g transform="translate(0 932.8) scale(1 15.25) translate(0 -932)"><g transform="translate(0 850) scale(1 0.902) translate(0 -850)"><path d="M1633.95 938.1L1700.7 938.1A200.45 200.45 0 0 0 1685.45 861.39L1623.77 886.94A133.7 133.7 0 0 1 1633.95 938.1Z" fill="#b4d99a" stroke="#62bb46" stroke-width="4.6" stroke-linejoin="miter"/><path d="M1623.77 886.94L1640.58 879.97A151.89 151.89 0 0 0 1607.65 830.7L1594.79 843.56A133.7 133.7 0 0 1 1623.77 886.94Z" fill="#cce3a0" stroke="#8dc63f" stroke-width="4.6" stroke-linejoin="miter"/><path d="M1594.79 843.56L1606.78 831.57A150.65 150.65 0 0 0 1557.9 798.91L1551.41 814.58A133.7 133.7 0 0 1 1594.79 843.56Z" fill="#eef09e" stroke="#d7df23" stroke-width="4.6" stroke-linejoin="miter"/><path d="M1551.41 814.58L1564.59 782.76A168.14 168.14 0 0 0 1500.25 769.96L1500.25 804.4A133.7 133.7 0 0 1 1551.41 814.58Z" fill="#fedb95" stroke="#fdb813" stroke-width="4.6" stroke-linejoin="miter"/><path d="M1500.25 804.4L1500.25 797.87A140.23 140.23 0 0 0 1446.58 808.54L1449.09 814.58A133.7 133.7 0 0 1 1500.25 804.4Z" fill="#f9b48f" stroke="#f26522" stroke-width="4.6" stroke-linejoin="miter"/><path d="M1449.09 814.58L1447.73 811.31A137.23 137.23 0 0 0 1403.21 841.06L1405.71 843.56A133.7 133.7 0 0 1 1449.09 814.58Z" fill="#f6908f" stroke="#ed1c24" stroke-width="4.6" stroke-linejoin="miter"/><path d="M1405.71 843.56L1402.46 840.31A138.29 138.29 0 0 0 1372.49 885.18L1376.73 886.94A133.7 133.7 0 0 1 1405.71 843.56Z" fill="#f6a0a8" stroke="#ed145b" stroke-width="4.6" stroke-linejoin="miter"/><path d="M1376.73 886.94L1364.82 882A146.59 146.59 0 0 0 1353.66 938.1L1366.55 938.1A133.7 133.7 0 0 1 1376.73 886.94Z" fill="#eea2cb" stroke="#dd3d96" stroke-width="4.6" stroke-linejoin="miter"/><path d="M1366.55 938.1L1360.9 938.1A139.35 139.35 0 0 0 1371.51 991.43L1376.73 989.26A133.7 133.7 0 0 1 1366.55 938.1Z" fill="#cba3cf" stroke="#a54da0" stroke-width="4.6" stroke-linejoin="miter"/><path d="M1376.73 989.26L1376.73 989.26A133.7 133.7 0 0 0 1405.71 1032.64L1405.71 1032.64A133.7 133.7 0 0 1 1376.73 989.26Z" fill="#b3a0cc" stroke="#6b439b" stroke-width="4.6" stroke-linejoin="miter"/><path d="M1405.71 1032.64L1405.71 1032.64A133.7 133.7 0 0 0 1449.09 1061.62L1449.09 1061.62A133.7 133.7 0 0 1 1405.71 1032.64Z" fill="#9da3ce" stroke="#3b479d" stroke-width="4.6" stroke-linejoin="miter"/><path d="M1449.09 1061.62L1449.09 1061.62A133.7 133.7 0 0 0 1500.25 1071.8L1500.25 1071.8A133.7 133.7 0 0 1 1449.09 1061.62Z" fill="#97a7d1" stroke="#2e4fa2" stroke-width="4.6" stroke-linejoin="miter"/><path d="M1500.25 1071.8L1500.25 1074.45A136.35 136.35 0 0 0 1552.43 1064.07L1551.41 1061.62A133.7 133.7 0 0 1 1500.25 1071.8Z" fill="#9ec7ee" stroke="#3d8fdc" stroke-width="4.6" stroke-linejoin="miter"/><path d="M1551.41 1061.62L1551.41 1061.62A133.7 133.7 0 0 0 1594.79 1032.64L1594.79 1032.64A133.7 133.7 0 0 1 1551.41 1061.62Z" fill="#b6e7fb" stroke="#6dcff6" stroke-width="4.6" stroke-linejoin="miter"/><path d="M1594.79 1032.64L1594.79 1032.64A133.7 133.7 0 0 0 1623.77 989.26L1623.77 989.26A133.7 133.7 0 0 1 1594.79 1032.64Z" fill="#b7e7cb" stroke="#6fcf97" stroke-width="4.6" stroke-linejoin="miter"/><path d="M1623.77 989.26L1623.77 989.26A133.7 133.7 0 0 0 1633.95 938.1L1633.95 938.1A133.7 133.7 0 0 1 1623.77 989.26Z" fill="#b5de9f" stroke="#6abd45" stroke-width="4.6" stroke-linejoin="miter"/><g fill="none" stroke="#cacace" stroke-width="1.35"><circle cx="1500.25" cy="938.1" r="133.7"/><circle cx="1500.25" cy="938.1" r="155.77"/><circle cx="1500.25" cy="938.1" r="177.85"/><circle cx="1500.25" cy="938.1" r="199.92"/><path d="M1633.95 938.1L1722.25 938.1"/><path d="M1623.77 886.94L1705.35 853.14"/><path d="M1594.79 843.56L1657.23 781.12"/><path d="M1551.41 814.58L1585.21 733"/><path d="M1500.25 804.4L1500.25 716.1"/><path d="M1449.09 814.58L1415.29 733"/><path d="M1405.71 843.56L1343.27 781.12"/><path d="M1376.73 886.94L1295.15 853.14"/><path d="M1366.55 938.1L1278.25 938.1"/><path d="M1376.73 989.26L1295.15 1023.06"/><path d="M1405.71 1032.64L1343.27 1095.08"/><path d="M1449.09 1061.62L1415.29 1143.2"/><path d="M1500.25 1071.8L1500.25 1160.1"/><path d="M1551.41 1061.62L1585.21 1143.2"/><path d="M1594.79 1032.64L1657.23 1095.08"/><path d="M1623.77 989.26L1705.35 1023.06"/></g><circle cx="1500.25" cy="938.1" r="222" fill="none" stroke="#999" stroke-width="1.2"/></g></g></g><text class="wd" transform="translate(1500.75 937.7) rotate(-11.25)" x="126.5" y="-0.7">happy</text><text class="wd" transform="translate(1500.75 937.7) rotate(-33.75)" x="126.5" y="-0.7">elated</text><text class="wd" transform="translate(1500.75 937.7) rotate(-56.25)" x="126.5" y="-0.7">excited</text><text class="wd" transform="translate(1500.75 937.7) rotate(-78.75)" x="126.5" y="-0.7">alert</text><text class="wd" transform="translate(1500.75 937.7) rotate(-101.25)" x="126.5" y="-0.7">tense</text><text class="wd" transform="translate(1500.75 937.7) rotate(-123.75)" x="126.5" y="-0.7">nervous</text><text class="wd" transform="translate(1500.75 937.7) rotate(-146.25)" x="126.5" y="-0.7">stressed</text><text class="wd" transform="translate(1500.75 937.7) rotate(-168.75)" x="126.5" y="-0.7">upset</text><text class="wd" transform="translate(1500.75 937.7) rotate(-191.25)" x="126.5" y="-0.7">sad</text><text class="wd" transform="translate(1500.75 937.7) rotate(-213.75)" x="126.5" y="-0.7">depressed</text><text class="wd" transform="translate(1500.75 937.7) rotate(-236.25)" x="126.5" y="-0.7">lethargic</text><text class="wd" transform="translate(1500.75 937.7) rotate(-258.75)" x="126.5" y="-0.7">fatigued</text><text class="wd" transform="translate(1500.75 937.7) rotate(-281.25)" x="126.5" y="-0.7">calm</text><text class="wd" transform="translate(1500.75 937.7) rotate(-303.75)" x="126.5" y="-0.7">relaxed</text><text class="wd" transform="translate(1500.75 937.7) rotate(-326.25)" x="126.5" y="-0.7">serene</text><text class="wd" transform="translate(1500.75 937.7) rotate(-348.75)" x="126.5" y="-0.7">contented</text><text class="rt" transform="translate(1594.79 843.56) rotate(45)" x="0" y="0">0%</text><text class="rt" transform="translate(1610.4 827.95) rotate(45)" x="0" y="0">12%</text><text class="rt" transform="translate(1626.01 812.34) rotate(45)" x="0" y="0">25%</text><text class="rt" transform="translate(1641.62 796.73) rotate(45)" x="0" y="0">38%</text><text class="rt" transform="translate(1657.23 781.12) rotate(45)" x="0" y="0">50%</text><rect x="1627" y="944.5" width="103" height="2.5" fill="#fff"/><text class="ti" x="1502.6" y="651.4">PoV_6</text><text class="su" x="1503.1" y="682">(Square Corner Outlook)</text><text class="th" x="1737.55" y="944.1">0</text><text class="th" x="1729.25" y="856.1"><tspan class="pi">π</tspan>/8</text><text class="th" x="1679.15" y="770.6"><tspan class="pi">π</tspan>/4</text><text class="th" x="1609.45" y="719.8">3<tspan class="pi">π</tspan>/8</text><text class="th" x="1500.85" y="702.3"><tspan class="pi">π</tspan>/2</text><text class="th" x="1390.95" y="719.9">5<tspan class="pi">π</tspan>/8</text><text class="th" x="1315.95" y="770.6">3<tspan class="pi">π</tspan>/4</text><rect x="1239.45" y="838.1" width="52" height="22" fill="#fff"/><svg x="0" y="843" width="1772" height="19" viewBox="0 843 1772 19" overflow="hidden"><text class="th" x="1265.45" y="846.6">7<tspan class="pi">π</tspan>/8</text></svg><text class="th" x="1263.95" y="944.1"><tspan class="pi">π</tspan></text><svg x="0" y="981.5" width="1772" height="40" viewBox="0 981.5 1772 40" overflow="hidden"><text class="th" x="1265.35" y="1023.2">9<tspan class="pi">π</tspan>/8</text></svg><svg x="0" y="1021.5" width="1772" height="40" viewBox="0 1021.5 1772 40" overflow="hidden"><text class="th" x="1265.35" y="1032.7">9<tspan class="pi">π</tspan>/8</text></svg><text class="th" x="1315.95" y="1118.3">5<tspan class="pi">π</tspan>/4</text><text class="th" x="1386.95" y="1168.9">11<tspan class="pi">π</tspan>/8</text><text class="th" x="1500.25" y="1186.7">3<tspan class="pi">π</tspan>/2</text><text class="th" x="1616.15" y="1168.9">13<tspan class="pi">π</tspan>/8</text><text class="th" x="1684.85" y="1118.3">7<tspan class="pi">π</tspan>/4</text><text class="th" x="1741.25" y="1032.9">15<tspan class="pi">π</tspan>/8</text></g>
<g><path d="M1013.2 1549.9L1058.59 1549.9A179.09 179.09 0 0 0 1044.95 1481.37L1003.02 1498.74A133.7 133.7 0 0 1 1013.2 1549.9Z" fill="#b4d99a" stroke="#62bb46" stroke-width="4.6" stroke-linejoin="miter"/><path d="M1003.02 1498.74L1016.08 1493.33A147.83 147.83 0 0 0 984.03 1445.37L974.04 1455.36A133.7 133.7 0 0 1 1003.02 1498.74Z" fill="#cce3a0" stroke="#8dc63f" stroke-width="4.6" stroke-linejoin="miter"/><path d="M974.04 1455.36L982.16 1447.24A145.18 145.18 0 0 0 935.06 1415.77L930.66 1426.38A133.7 133.7 0 0 1 974.04 1455.36Z" fill="#eef09e" stroke="#d7df23" stroke-width="4.6" stroke-linejoin="miter"/><path d="M930.66 1426.38L937.42 1410.06A151.36 151.36 0 0 0 879.5 1398.54L879.5 1416.2A133.7 133.7 0 0 1 930.66 1426.38Z" fill="#fedb95" stroke="#fdb813" stroke-width="4.6" stroke-linejoin="miter"/><path d="M879.5 1416.2L879.5 1408.25A141.65 141.65 0 0 0 825.29 1419.04L828.34 1426.38A133.7 133.7 0 0 1 879.5 1416.2Z" fill="#f9b48f" stroke="#f26522" stroke-width="4.6" stroke-linejoin="miter"/><path d="M828.34 1426.38L828.34 1426.38A133.7 133.7 0 0 0 784.96 1455.36L784.96 1455.36A133.7 133.7 0 0 1 828.34 1426.38Z" fill="#f6908f" stroke="#ed1c24" stroke-width="4.6" stroke-linejoin="miter"/><path d="M784.96 1455.36L777.47 1447.87A144.3 144.3 0 0 0 746.19 1494.68L755.98 1498.74A133.7 133.7 0 0 1 784.96 1455.36Z" fill="#f6a0a8" stroke="#ed145b" stroke-width="4.6" stroke-linejoin="miter"/><path d="M755.98 1498.74L723.84 1485.42A168.49 168.49 0 0 0 711.01 1549.9L745.8 1549.9A133.7 133.7 0 0 1 755.98 1498.74Z" fill="#eea2cb" stroke="#dd3d96" stroke-width="4.6" stroke-linejoin="miter"/><path d="M745.8 1549.9L729.02 1549.9A150.48 150.48 0 0 0 740.48 1607.49L755.98 1601.06A133.7 133.7 0 0 1 745.8 1549.9Z" fill="#cba3cf" stroke="#a54da0" stroke-width="4.6" stroke-linejoin="miter"/><path d="M755.98 1601.06L753.53 1602.08A136.35 136.35 0 0 0 783.09 1646.31L784.96 1644.44A133.7 133.7 0 0 1 755.98 1601.06Z" fill="#b3a0cc" stroke="#6b439b" stroke-width="4.6" stroke-linejoin="miter"/><path d="M784.96 1644.44L783.09 1646.31A136.35 136.35 0 0 0 827.32 1675.87L828.34 1673.42A133.7 133.7 0 0 1 784.96 1644.44Z" fill="#9da3ce" stroke="#3b479d" stroke-width="4.6" stroke-linejoin="miter"/><path d="M828.34 1673.42L827.32 1675.87A136.35 136.35 0 0 0 879.5 1686.25L879.5 1683.6A133.7 133.7 0 0 1 828.34 1673.42Z" fill="#97a7d1" stroke="#2e4fa2" stroke-width="4.6" stroke-linejoin="miter"/><path d="M879.5 1683.6L879.5 1685.72A135.82 135.82 0 0 0 931.48 1675.38L930.66 1673.42A133.7 133.7 0 0 1 879.5 1683.6Z" fill="#9ec7ee" stroke="#3d8fdc" stroke-width="4.6" stroke-linejoin="miter"/><path d="M930.66 1673.42L930.66 1673.42A133.7 133.7 0 0 0 974.04 1644.44L974.04 1644.44A133.7 133.7 0 0 1 930.66 1673.42Z" fill="#b6e7fb" stroke="#6dcff6" stroke-width="4.6" stroke-linejoin="miter"/><path d="M974.04 1644.44L974.04 1644.44A133.7 133.7 0 0 0 1003.02 1601.06L1003.02 1601.06A133.7 133.7 0 0 1 974.04 1644.44Z" fill="#b7e7cb" stroke="#6fcf97" stroke-width="4.6" stroke-linejoin="miter"/><path d="M1003.02 1601.06L1003.02 1601.06A133.7 133.7 0 0 0 1013.2 1549.9L1013.2 1549.9A133.7 133.7 0 0 1 1003.02 1601.06Z" fill="#b5de9f" stroke="#6abd45" stroke-width="4.6" stroke-linejoin="miter"/><g fill="none" stroke="#b5b5b9" stroke-width="1.35"><circle cx="879.5" cy="1549.9" r="133.7"/><circle cx="879.5" cy="1549.9" r="155.77"/><circle cx="879.5" cy="1549.9" r="177.85"/><circle cx="879.5" cy="1549.9" r="199.92"/><path d="M1013.2 1549.9L1101.5 1549.9"/><path d="M1003.02 1498.74L1084.6 1464.94"/><path d="M974.04 1455.36L1036.48 1392.92"/><path d="M930.66 1426.38L964.46 1344.8"/><path d="M879.5 1416.2L879.5 1327.9"/><path d="M828.34 1426.38L794.54 1344.8"/><path d="M784.96 1455.36L722.52 1392.92"/><path d="M755.98 1498.74L674.4 1464.94"/><path d="M745.8 1549.9L657.5 1549.9"/><path d="M755.98 1601.06L674.4 1634.86"/><path d="M784.96 1644.44L722.52 1706.88"/><path d="M828.34 1673.42L794.54 1755"/><path d="M879.5 1683.6L879.5 1771.9"/><path d="M930.66 1673.42L964.46 1755"/><path d="M974.04 1644.44L1036.48 1706.88"/><path d="M1003.02 1601.06L1084.6 1634.86"/></g><circle cx="879.5" cy="1549.9" r="222" fill="none" stroke="#7d7d7d" stroke-width="1.2"/><text class="wd" transform="translate(880 1549.5) rotate(-11.25)" x="126.5" y="-0.7">happy</text><text class="wd" transform="translate(880 1549.5) rotate(-33.75)" x="126.5" y="-0.7">elated</text><text class="wd" transform="translate(880 1549.5) rotate(-56.25)" x="126.5" y="-0.7">excited</text><text class="wd" transform="translate(880 1549.5) rotate(-78.75)" x="126.5" y="-0.7">alert</text><text class="wd" transform="translate(880 1549.5) rotate(-101.25)" x="126.5" y="-0.7">tense</text><text class="wd" transform="translate(880 1549.5) rotate(-123.75)" x="126.5" y="-0.7">nervous</text><text class="wd" transform="translate(880 1549.5) rotate(-146.25)" x="126.5" y="-0.7">stressed</text><text class="wd" transform="translate(880 1549.5) rotate(-168.75)" x="126.5" y="-0.7">upset</text><text class="wd" transform="translate(880 1549.5) rotate(-191.25)" x="126.5" y="-0.7">sad</text><text class="wd" transform="translate(880 1549.5) rotate(-213.75)" x="126.5" y="-0.7">depressed</text><text class="wd" transform="translate(880 1549.5) rotate(-236.25)" x="126.5" y="-0.7">lethargic</text><text class="wd" transform="translate(880 1549.5) rotate(-258.75)" x="126.5" y="-0.7">fatigued</text><text class="wd" transform="translate(880 1549.5) rotate(-281.25)" x="126.5" y="-0.7">calm</text><text class="wd" transform="translate(880 1549.5) rotate(-303.75)" x="126.5" y="-0.7">relaxed</text><text class="wd" transform="translate(880 1549.5) rotate(-326.25)" x="126.5" y="-0.7">serene</text><text class="wd" transform="translate(880 1549.5) rotate(-348.75)" x="126.5" y="-0.7">contented</text><text class="rt" transform="translate(974.04 1455.36) rotate(45)" x="0" y="0">0%</text><text class="rt" transform="translate(989.65 1439.75) rotate(45)" x="0" y="0">12%</text><text class="rt" transform="translate(1005.26 1424.14) rotate(45)" x="0" y="0">25%</text><text class="rt" transform="translate(1020.87 1408.53) rotate(45)" x="0" y="0">38%</text><text class="rt" transform="translate(1036.48 1392.92) rotate(45)" x="0" y="0">50%</text><text class="ti" x="880.6" y="1260.2">PoV_7</text><text class="su" x="880.5" y="1292.2">(Tramway Stop)</text><text class="th" x="1116.8" y="1555.9">0</text><text class="th" x="1108.5" y="1467.9"><tspan class="pi">π</tspan>/8</text><text class="th" x="1058.4" y="1382.4"><tspan class="pi">π</tspan>/4</text><text class="th" x="988.7" y="1331.6">3<tspan class="pi">π</tspan>/8</text><text class="th" x="880.1" y="1314.1"><tspan class="pi">π</tspan>/2</text><text class="th" x="770.2" y="1331.7">5<tspan class="pi">π</tspan>/8</text><text class="th" x="695.2" y="1382.4">3<tspan class="pi">π</tspan>/4</text><text class="th" x="644.7" y="1467.9">7<tspan class="pi">π</tspan>/8</text><text class="th" x="643.2" y="1555.9"><tspan class="pi">π</tspan></text><text class="th" x="644.6" y="1644.5">9<tspan class="pi">π</tspan>/8</text><text class="th" x="695.2" y="1730.1">5<tspan class="pi">π</tspan>/4</text><text class="th" x="766.2" y="1780.7">11<tspan class="pi">π</tspan>/8</text><text class="th" x="879.5" y="1798.5">3<tspan class="pi">π</tspan>/2</text><text class="th" x="995.4" y="1780.7">13<tspan class="pi">π</tspan>/8</text><text class="th" x="1064.1" y="1730.1">7<tspan class="pi">π</tspan>/4</text><text class="th" x="1120.5" y="1644.7">15<tspan class="pi">π</tspan>/8</text></g>
<rect x="0" y="1797.4" width="1772" height="5" fill="#fff"/></svg></body></html>
